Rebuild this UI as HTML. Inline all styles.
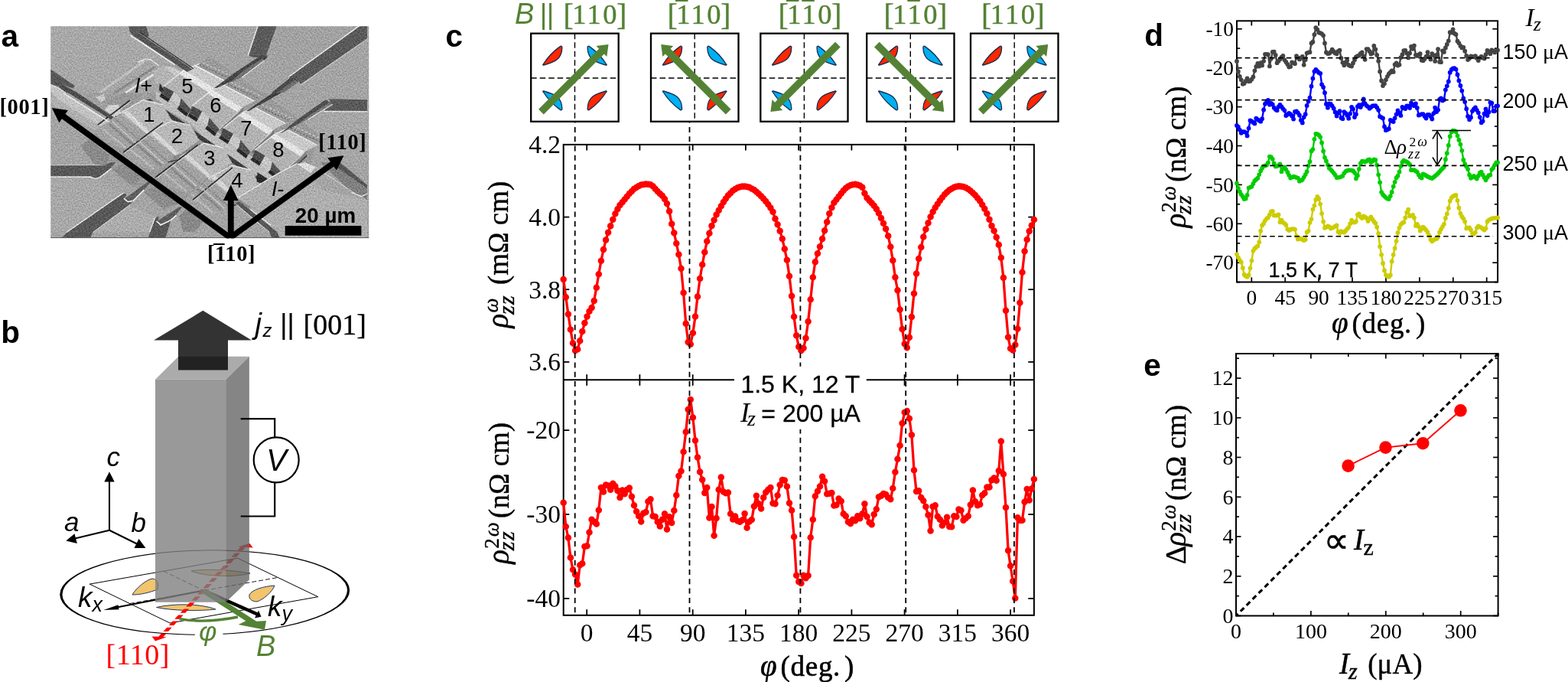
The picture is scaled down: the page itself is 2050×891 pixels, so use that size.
<!DOCTYPE html>
<html lang="en"><head><meta charset="utf-8"><title>Figure</title>
<style>
html,body{margin:0;padding:0;background:#fff;}
body{width:2050px;height:891px;overflow:hidden;}
svg{display:block;}
text{white-space:pre;}
</style></head><body>
<svg width="2050" height="891" viewBox="0 0 2050 891">
<rect width="2050" height="891" fill="#fff"/>
<g id="panel-a">
<defs>
<clipPath id="semclip"><rect x="66.2" y="34.2" width="416.1" height="276.6"/></clipPath>
<filter id="semf" x="0" y="0" width="100%" height="100%" filterUnits="objectBoundingBox" color-interpolation-filters="sRGB">
  <feGaussianBlur in="SourceGraphic" stdDeviation="0.7" result="b"/>
  <feTurbulence type="fractalNoise" baseFrequency="0.55" numOctaves="2" seed="7" result="n"/>
  <feColorMatrix in="n" type="matrix" values="1.6 0 0 0 -0.3  1.6 0 0 0 -0.3  1.6 0 0 0 -0.3  0 0 0 0 1" result="ng"/>
  <feComposite in="b" in2="ng" operator="arithmetic" k1="0" k2="1" k3="0.22" k4="-0.11"/>
</filter>
</defs>
<g clip-path="url(#semclip)">
<g filter="url(#semf)">
<rect x="62.2" y="30.200000000000003" width="424.1" height="284.6" fill="#a4a4a4"/>
<polygon points="66.1,34.1 167.6,34.1 172.7,46.4 229,85.3 190.1,77.1 126.6,119.1 97.9,112 66.1,90.4" fill="#a8a8a8" />
<polygon points="66.1,231.5 121.5,232.5 162.4,253 88.7,303 66.1,303" fill="#a8a8a8" />
<polygon points="121.5,303 169.6,267.8 203.4,283.7 196.2,303" fill="#acacac" />
<polygon points="331.5,273.5 421.6,247.9 480,261.2 480,316.5 362.2,316.5" fill="#aeaeae" />
<polygon points="362.2,34.1 468.7,34.1 377.6,100.7 349.9,74" fill="#a2a2a2" />
<polygon points="392.9,151.7 423.7,145.6 480,146.1 480,212 444.1,212 418.5,192.7" fill="#a6a6a6" />
<polygon points="66.1,109.9 76.4,115 85.6,121 83.6,122 142,158.9 131.7,165 75.4,130.2 66.1,120.1" fill="#c2c2c2" />
<polygon points="75.4,130.2 131.7,165 123.5,170.2 66.1,135.3 66.1,125.1" fill="#b0b0b0" />
<polygon points="126.6,119.1 180.9,81.2 190.1,77.1 197.3,78.1 207.5,85.3 226,85.3 240.3,91.5 252.6,90.4 270,77.1 270,76.1 274.1,73.5 303.8,95.6 313,100.7 341.7,121 347.9,121 355,130.2 389.9,154.8 419.6,178.4 413.4,187.6 403.2,225.3 421.6,247.9 331.5,273.5 308.9,267.3 298.7,263.2 270,278.6 247.5,261.2 213.7,273.5 188,250.9 172.7,242.7 147.1,222.2 139.9,212 105.1,190.7 117.4,181.4 125.6,174.3 148.1,156.9 145,156.3 148.1,152.8" fill="#9a9a9a" />
<polygon points="105.1,190.7 117.4,181.4 144,205 139.9,212 121.5,212" fill="#8a8a8a" />
<polygon points="121.5,212 139.9,212 145,218.1 133.8,223.3" fill="#8c8c8c" />
<polygon points="147.1,222.2 162.4,212 188,232.5 172.7,242.7" fill="#8c8c8c" />
<polygon points="188,250.9 203.4,242.7 234.1,265.3 213.7,273.5" fill="#8c8c8c" />
<polygon points="234.1,281.7 244.4,273.5 264.9,289.9 254.6,303 239.3,303" fill="#888888" />
<polygon points="126.6,119.1 180.9,81.2 190.1,77.1 197.3,78.1 207.5,85.3 226,85.3 240.3,91.5 243.4,95.6 219.8,121 125.6,121" fill="#a6a6a6" />
<polygon points="121.5,121 191.1,121 192.1,134.3 162.4,154.8 154.2,156.9 148.1,152.8 101,121" fill="#a0a0a0" />
<polyline points="131.7,120.1 188,80.2" fill="none" stroke="#c0c0c0" stroke-width="3.2" stroke-linejoin="round" stroke-linecap="round" stroke-linecap="butt"/>
<polyline points="150.1,121 201.4,88.4" fill="none" stroke="#8a8a8a" stroke-width="3.0" stroke-linejoin="round" stroke-linecap="round" stroke-linecap="butt"/>
<polyline points="164.5,121 213.7,88.9" fill="none" stroke="#e8e8e8" stroke-width="2.6" stroke-linejoin="round" stroke-linecap="round" stroke-linecap="butt"/>
<polygon points="198.7,93.3 214,86.1 227.4,88.2 239.7,95.4 235.6,103.6 216.1,120 211,108.7 203.8,110.7" fill="#b4b4b4" />
<polygon points="214,86.1 227.4,88.2 239.7,95.4 235.6,103.6 223.3,94.3" fill="#c8c8c8" />
<polygon points="208.9,108.7 216.1,120 213,122 207.9,117.9" fill="#2c2c2c" />
<polygon points="187.4,131.2 195.6,129.2 200.7,132.2 191.5,134.3" fill="#343434" />
<polygon points="136.8,143.5 142,137.4 155.3,136.4 158.3,151.7 152.2,154.8" fill="#d0d0d0" />
<polygon points="150.1,151.7 158.3,150.7 157.3,155.8 152.2,156.9" fill="#3a3a3a" />
<polygon points="125.6,127.1 135.8,123 137.9,130.2 131.7,133.3" fill="#cacaca" />
<polygon points="131.7,133.3 162.4,121 188,123 162.4,146.6 158.3,136.4 142,136.4" fill="#989898" />
<polygon points="203.8,118.9 213,124 221.2,131.2 255,151.7 272.4,165 278.6,171 293,180 318,199 338,212 357,225 364,232 352,240 330,226 306,209 283,192 262,176 249.9,162 213,140.4 211,133.3 203.8,129.2" fill="#bcbcbc" />
<polygon points="214,141.5 242,161 239,166 212,147" fill="#3c3c3c" />
<polygon points="254,170.5 282,190 279,195 252,176" fill="#3c3c3c" />
<polygon points="296,200.5 324,220 321,225 294,206" fill="#3c3c3c" />
<polygon points="335,229 363,248.5 360,253.5 333,234.5" fill="#3c3c3c" />
<polyline points="213,124 255,151.7 293,180 357,225" fill="none" stroke="#d8d8d8" stroke-width="1.2" stroke-linejoin="round" />
<polygon points="211,122 222.3,129.3 219.8,133.3 208.3,125.8" fill="#282828" />
<polygon points="234.3,138.3 246.3,148.3 243.8,152.3 231.3,142.3" fill="#282828" />
<polygon points="240.7,91.3 261.2,83.1 307.3,100.5 279.6,114.8" fill="#c8c8c8" />
<polygon points="254.8,85.3 266.8,80.3 308.8,99.8 295.3,106.3" fill="#9a9a9a" />
<polygon points="249.9,143.5 279.6,114.8 282.3,119.8 253.8,147.8" fill="#7c7c7c" />
<polygon points="214.1,112.8 240.7,91.3 279.6,114.8 276.6,120 249.9,143.5 236.6,128.2 227.4,120" fill="#b2b2b2" />
<polygon points="240.7,91.3 279.6,114.8 273.3,121 234.4,96.4" fill="#e4e4e4" />
<polygon points="214.1,112.8 227.4,120 222.3,129.3 211,122" fill="#4a4a4a" />
<polygon points="236.6,128.2 249.9,143.5 246.3,148.3 234.3,138.3" fill="#505050" />
<polygon points="227.4,120 236.6,128.2 234.3,138.3 222.3,129.3" fill="#c8c8c8" />
<polyline points="254.8,85.3 295.3,106.3" fill="none" stroke="#f2f2f2" stroke-width="1.3" stroke-linejoin="round" />
<polyline points="214.1,112.8 240.7,91.3 261.2,83.1" fill="none" stroke="#eaeaea" stroke-width="1.3" stroke-linejoin="round" />
<polyline points="260.8,84.3 301.8,103.3" fill="none" stroke="#6e6e6e" stroke-width="1.5" stroke-linejoin="round" stroke-dasharray="2.5 2"/>
<polyline points="264.8,81.8 305.8,100.8" fill="none" stroke="#d0d0d0" stroke-width="1.2" stroke-linejoin="round" stroke-dasharray="3 2.5"/>
<polyline points="249.9,143.5 279.6,114.8" fill="none" stroke="#d6d6d6" stroke-width="1.0" stroke-linejoin="round" />
<polyline points="253.8,147.8 282.3,119.8" fill="none" stroke="#3a3a3a" stroke-width="1.4" stroke-linejoin="round" />
<polygon points="247.9,147.6 259.2,154.9 256.7,158.9 245.2,151.4" fill="#282828" />
<polygon points="271.2,163.9 283.2,173.9 280.7,177.9 268.2,167.9" fill="#282828" />
<polygon points="277.6,116.9 298.1,108.7 344.2,126.1 316.5,140.4" fill="#c8c8c8" />
<polygon points="291.7,110.9 303.7,105.9 345.7,125.4 332.2,131.9" fill="#9a9a9a" />
<polygon points="286.8,169.1 316.5,140.4 319.2,145.4 290.7,173.4" fill="#7c7c7c" />
<polygon points="251,138.4 277.6,116.9 316.5,140.4 313.5,145.6 286.8,169.1 273.5,153.8 264.3,145.6" fill="#b2b2b2" />
<polygon points="277.6,116.9 316.5,140.4 310.2,146.6 271.3,122" fill="#e4e4e4" />
<polygon points="251,138.4 264.3,145.6 259.2,154.9 247.9,147.6" fill="#4a4a4a" />
<polygon points="273.5,153.8 286.8,169.1 283.2,173.9 271.2,163.9" fill="#505050" />
<polygon points="264.3,145.6 273.5,153.8 271.2,163.9 259.2,154.9" fill="#c8c8c8" />
<polyline points="291.7,110.9 332.2,131.9" fill="none" stroke="#f2f2f2" stroke-width="1.3" stroke-linejoin="round" />
<polyline points="251,138.4 277.6,116.9 298.1,108.7" fill="none" stroke="#eaeaea" stroke-width="1.3" stroke-linejoin="round" />
<polyline points="297.7,109.9 338.7,128.9" fill="none" stroke="#6e6e6e" stroke-width="1.5" stroke-linejoin="round" stroke-dasharray="2.5 2"/>
<polyline points="301.7,107.4 342.7,126.4" fill="none" stroke="#d0d0d0" stroke-width="1.2" stroke-linejoin="round" stroke-dasharray="3 2.5"/>
<polyline points="286.8,169.1 316.5,140.4" fill="none" stroke="#d6d6d6" stroke-width="1.0" stroke-linejoin="round" />
<polyline points="290.7,173.4 319.2,145.4" fill="none" stroke="#3a3a3a" stroke-width="1.4" stroke-linejoin="round" />
<polygon points="288.7,176.7 300,184 297.5,188 286,180.5" fill="#282828" />
<polygon points="312,193 324,203 321.5,207 309,197" fill="#282828" />
<polygon points="318.4,146 338.9,137.8 385,155.2 357.3,169.5" fill="#c8c8c8" />
<polygon points="332.5,140 344.5,135 386.5,154.5 373,161" fill="#9a9a9a" />
<polygon points="327.6,198.2 357.3,169.5 360,174.5 331.5,202.5" fill="#7c7c7c" />
<polygon points="291.8,167.5 318.4,146 357.3,169.5 354.3,174.7 327.6,198.2 314.3,182.9 305.1,174.7" fill="#b2b2b2" />
<polygon points="318.4,146 357.3,169.5 351,175.7 312.1,151.1" fill="#e4e4e4" />
<polygon points="291.8,167.5 305.1,174.7 300,184 288.7,176.7" fill="#4a4a4a" />
<polygon points="314.3,182.9 327.6,198.2 324,203 312,193" fill="#505050" />
<polygon points="305.1,174.7 314.3,182.9 312,193 300,184" fill="#c8c8c8" />
<polyline points="332.5,140 373,161" fill="none" stroke="#f2f2f2" stroke-width="1.3" stroke-linejoin="round" />
<polyline points="291.8,167.5 318.4,146 338.9,137.8" fill="none" stroke="#eaeaea" stroke-width="1.3" stroke-linejoin="round" />
<polyline points="338.5,139 379.5,158" fill="none" stroke="#6e6e6e" stroke-width="1.5" stroke-linejoin="round" stroke-dasharray="2.5 2"/>
<polyline points="342.5,136.5 383.5,155.5" fill="none" stroke="#d0d0d0" stroke-width="1.2" stroke-linejoin="round" stroke-dasharray="3 2.5"/>
<polyline points="327.6,198.2 357.3,169.5" fill="none" stroke="#d6d6d6" stroke-width="1.0" stroke-linejoin="round" />
<polyline points="331.5,202.5 360,174.5" fill="none" stroke="#3a3a3a" stroke-width="1.4" stroke-linejoin="round" />
<polygon points="330.2,205.2 341.5,212.5 339,216.5 327.5,209" fill="#282828" />
<polygon points="353.5,221.5 365.5,231.5 363,235.5 350.5,225.5" fill="#282828" />
<polygon points="359.9,174.5 380.4,166.3 426.5,183.7 398.8,198" fill="#c8c8c8" />
<polygon points="374,168.5 386,163.5 428,183 414.5,189.5" fill="#9a9a9a" />
<polygon points="369.1,226.7 398.8,198 401.5,203 373,231" fill="#7c7c7c" />
<polygon points="333.3,196 359.9,174.5 398.8,198 395.8,203.2 369.1,226.7 355.8,211.4 346.6,203.2" fill="#b2b2b2" />
<polygon points="359.9,174.5 398.8,198 392.5,204.2 353.6,179.6" fill="#e4e4e4" />
<polygon points="333.3,196 346.6,203.2 341.5,212.5 330.2,205.2" fill="#4a4a4a" />
<polygon points="355.8,211.4 369.1,226.7 365.5,231.5 353.5,221.5" fill="#505050" />
<polygon points="346.6,203.2 355.8,211.4 353.5,221.5 341.5,212.5" fill="#c8c8c8" />
<polyline points="374,168.5 414.5,189.5" fill="none" stroke="#f2f2f2" stroke-width="1.3" stroke-linejoin="round" />
<polyline points="333.3,196 359.9,174.5 380.4,166.3" fill="none" stroke="#eaeaea" stroke-width="1.3" stroke-linejoin="round" />
<polyline points="380,167.5 421,186.5" fill="none" stroke="#6e6e6e" stroke-width="1.5" stroke-linejoin="round" stroke-dasharray="2.5 2"/>
<polyline points="384,165 425,184" fill="none" stroke="#d0d0d0" stroke-width="1.2" stroke-linejoin="round" stroke-dasharray="3 2.5"/>
<polyline points="369.1,226.7 398.8,198" fill="none" stroke="#d6d6d6" stroke-width="1.0" stroke-linejoin="round" />
<polyline points="373,231 401.5,203" fill="none" stroke="#3a3a3a" stroke-width="1.4" stroke-linejoin="round" />
<polygon points="125.9,174.6 156.6,148 192.5,175.6 183.2,184.6 166.8,196.1 136.1,185.9" fill="#a2a2a2" />
<polyline points="142.5,161.5 174.5,189.5" fill="none" stroke="#8a8a8a" stroke-width="3.5" stroke-linejoin="round" />
<polyline points="134.5,168.5 164.5,193.5" fill="none" stroke="#b8b8b8" stroke-width="2.5" stroke-linejoin="round" />
<polygon points="192.5,175.6 197.6,174.6 224.2,156.2 225.5,161.5 199.5,180.5 183.2,184.6" fill="#8a8a8a" />
<polygon points="156.6,148 187.3,130.5 212.9,136.7 224.2,156.2 197.6,174.6 192.5,175.6" fill="#b8b8b8" />
<polygon points="160.7,146.9 166,143.9 197,173 192.5,175.6" fill="#d6d6d6" />
<polyline points="156.6,148 187.3,130.5 212.9,136.7" fill="none" stroke="#e8e8e8" stroke-width="1.3" stroke-linejoin="round" />
<polyline points="183.2,184.6 199.5,180.5 225.5,161.5" fill="none" stroke="#3a3a3a" stroke-width="1.3" stroke-linejoin="round" />
<polygon points="162.5,201.9 193.2,175.3 229.1,202.9 219.8,211.9 203.4,223.4 172.7,213.2" fill="#a2a2a2" />
<polyline points="179.1,188.8 211.1,216.8" fill="none" stroke="#8a8a8a" stroke-width="3.5" stroke-linejoin="round" />
<polyline points="171.1,195.8 201.1,220.8" fill="none" stroke="#b8b8b8" stroke-width="2.5" stroke-linejoin="round" />
<polygon points="229.1,202.9 234.2,201.9 260.8,183.5 262.1,188.8 236.1,207.8 219.8,211.9" fill="#8a8a8a" />
<polygon points="193.2,175.3 223.9,157.8 249.5,164 260.8,183.5 234.2,201.9 229.1,202.9" fill="#b8b8b8" />
<polygon points="197.3,174.2 202.6,171.2 233.6,200.3 229.1,202.9" fill="#d6d6d6" />
<polyline points="193.2,175.3 223.9,157.8 249.5,164" fill="none" stroke="#e8e8e8" stroke-width="1.3" stroke-linejoin="round" />
<polyline points="219.8,211.9 236.1,207.8 262.1,188.8" fill="none" stroke="#3a3a3a" stroke-width="1.3" stroke-linejoin="round" />
<polygon points="205.2,231.1 235.9,204.5 271.8,232.1 262.5,241.1 246.1,252.6 215.4,242.4" fill="#a2a2a2" />
<polyline points="221.8,218 253.8,246" fill="none" stroke="#8a8a8a" stroke-width="3.5" stroke-linejoin="round" />
<polyline points="213.8,225 243.8,250" fill="none" stroke="#b8b8b8" stroke-width="2.5" stroke-linejoin="round" />
<polygon points="271.8,232.1 276.9,231.1 303.5,212.7 304.8,218 278.8,237 262.5,241.1" fill="#8a8a8a" />
<polygon points="235.9,204.5 266.6,187 292.2,193.2 303.5,212.7 276.9,231.1 271.8,232.1" fill="#b8b8b8" />
<polygon points="240,203.4 245.3,200.4 276.3,229.5 271.8,232.1" fill="#d6d6d6" />
<polyline points="235.9,204.5 266.6,187 292.2,193.2" fill="none" stroke="#e8e8e8" stroke-width="1.3" stroke-linejoin="round" />
<polyline points="262.5,241.1 278.8,237 304.8,218" fill="none" stroke="#3a3a3a" stroke-width="1.3" stroke-linejoin="round" />
<polygon points="241.4,260.1 272.1,233.5 308,261.1 298.7,270.1 282.3,281.6 251.6,271.4" fill="#a2a2a2" />
<polyline points="258,247 290,275" fill="none" stroke="#8a8a8a" stroke-width="3.5" stroke-linejoin="round" />
<polyline points="250,254 280,279" fill="none" stroke="#b8b8b8" stroke-width="2.5" stroke-linejoin="round" />
<polygon points="308,261.1 313.1,260.1 339.7,241.7 341,247 315,266 298.7,270.1" fill="#8a8a8a" />
<polygon points="272.1,233.5 302.8,216 328.4,222.2 339.7,241.7 313.1,260.1 308,261.1" fill="#b8b8b8" />
<polygon points="276.2,232.4 281.5,229.4 312.5,258.5 308,261.1" fill="#d6d6d6" />
<polyline points="272.1,233.5 302.8,216 328.4,222.2" fill="none" stroke="#e8e8e8" stroke-width="1.3" stroke-linejoin="round" />
<polyline points="298.7,270.1 315,266 341,247" fill="none" stroke="#3a3a3a" stroke-width="1.3" stroke-linejoin="round" />
<polyline points="214.2,161.4 162.2,200.5" fill="none" stroke="#cfcfcf" stroke-width="1.2" stroke-linejoin="round" />
<polyline points="213,160.2 161,199.3" fill="none" stroke="#303030" stroke-width="1.7" stroke-linejoin="round" />
<polyline points="259.8,190.7 204.4,233" fill="none" stroke="#cfcfcf" stroke-width="1.2" stroke-linejoin="round" />
<polyline points="258.6,189.5 203.2,231.8" fill="none" stroke="#303030" stroke-width="1.7" stroke-linejoin="round" />
<polyline points="305.3,220 253.2,262.3" fill="none" stroke="#cfcfcf" stroke-width="1.2" stroke-linejoin="round" />
<polyline points="304.1,218.8 252,261.1" fill="none" stroke="#303030" stroke-width="1.7" stroke-linejoin="round" />
<polyline points="171.2,132.2 129.2,164.2" fill="none" stroke="#cfcfcf" stroke-width="1.2" stroke-linejoin="round" />
<polyline points="170,131 128,163" fill="none" stroke="#303030" stroke-width="1.7" stroke-linejoin="round" />
<polyline points="150.5,155.5 182.5,183.5" fill="none" stroke="#909090" stroke-width="2.2" stroke-linejoin="round" />
<polyline points="146.5,158.5 177.5,186.5" fill="none" stroke="#c4c4c4" stroke-width="1.6" stroke-linejoin="round" />
<polyline points="187.1,182.8 219.1,210.8" fill="none" stroke="#909090" stroke-width="2.2" stroke-linejoin="round" />
<polyline points="183.1,185.8 214.1,213.8" fill="none" stroke="#c4c4c4" stroke-width="1.6" stroke-linejoin="round" />
<polyline points="229.8,212 261.8,240" fill="none" stroke="#909090" stroke-width="2.2" stroke-linejoin="round" />
<polyline points="225.8,215 256.8,243" fill="none" stroke="#c4c4c4" stroke-width="1.6" stroke-linejoin="round" />
<polyline points="266,241 298,269" fill="none" stroke="#909090" stroke-width="2.2" stroke-linejoin="round" />
<polyline points="262,244 293,272" fill="none" stroke="#c4c4c4" stroke-width="1.6" stroke-linejoin="round" />
<polygon points="387.8,214 403.2,225.3 421.6,247.9 406.2,242.7 392.9,227.4" fill="#d2d2d2" />
<polygon points="313,257.1 336.6,240.7 362.2,227.4 387.8,214 403.2,225.3 421.6,247.9 331.5,273.5 308.9,267.3" fill="#aeaeae" />
<polygon points="387.8,214 398,212 413.4,218.1 406.2,226.3" fill="#dadada" />
<polygon points="311,260.1 327.4,269.4 325.3,273.5 308.9,267.3" fill="#8c8c8c" />
<polygon points="336.6,225.3 349.9,233.5 343.8,239.7 335.6,237.6" fill="#2a2a2a" />
<polyline points="313,257.1 362.2,227.4 387.8,214" fill="none" stroke="#e4e4e4" stroke-width="1.4" stroke-linejoin="round" stroke-linecap="round" />
<polygon points="168.1,34.1 191.1,34.1 194.7,46.4 192.1,49 177.8,40.8 172.7,44.9 170.1,42.3" fill="#585858" />
<polygon points="177.8,40.8 251.6,90.4 244.4,94 172.7,45.4" fill="#545454" />
<polyline points="182.9,42.3 252.6,89.4" fill="none" stroke="#303030" stroke-width="1.2" stroke-linejoin="round" stroke-linecap="round" stroke-linecap="butt"/>
<polyline points="171.1,46.6 228,84.1" fill="none" stroke="#f4f4f4" stroke-width="1.6" stroke-linejoin="round" stroke-linecap="round" />
<polygon points="66.1,90.4 97.9,112 95.3,115.5 82,110.4 76.4,113.2 66.1,109.4" fill="#585858" />
<polygon points="76.4,113.2 82,110.4 101,121 85.6,121" fill="#4c4c4c" />
<polygon points="88.7,121 101,121 148.1,152.8 145,156.3" fill="#4c4c4c" />
<polyline points="83.6,122 142,158.9" fill="none" stroke="#ececec" stroke-width="1.5" stroke-linejoin="round" stroke-linecap="round" />
<polyline points="66.1,110.9 76.4,115 85.6,121" fill="none" stroke="#e0e0e0" stroke-width="1.2" stroke-linejoin="round" stroke-linecap="round" />
<polygon points="337.6,34.1 361.7,34.1 348.4,71 349.9,74 345.3,78.7 340.7,75.1 331.5,75.1 324.8,72.5" fill="#5a5a5a" />
<polyline points="337.1,34.1 324.3,72.5" fill="none" stroke="#f0f0f0" stroke-width="1.3" stroke-linejoin="round" stroke-linecap="round" />
<polygon points="341.7,72 349.9,74 345.3,78.7 315.1,100.7 283.3,115 280.2,115 304.8,96.6" fill="#464646" />
<polygon points="343.8,76.1 345.3,78.7 315.1,100.7 300.7,107.9 319.2,91.5" fill="#727272" />
<polyline points="345.3,79.2 316.1,101.2" fill="none" stroke="#e4e4e4" stroke-width="1.1" stroke-linejoin="round" stroke-linecap="round" />
<polygon points="469.8,34.1 480,34.1 480,50.5 392.9,109.9 390.9,105.8 385.8,101.7 379.6,102.7 377.6,100.7" fill="#5a5a5a" />
<polyline points="469.2,34.1 377.6,100.2" fill="none" stroke="#f0f0f0" stroke-width="1.3" stroke-linejoin="round" stroke-linecap="round" />
<polyline points="480,51 394,110.4" fill="none" stroke="#dcdcdc" stroke-width="1.0" stroke-linejoin="round" stroke-linecap="round" />
<polygon points="378.6,102.2 385.8,101.7 390.9,106.3 370.4,121 355,121" fill="#4a4a4a" />
<polygon points="384.7,104.8 390.9,106.3 370.4,121 362.2,121" fill="#6e6e6e" />
<polygon points="357.1,121 368.3,121 325.3,145.1 322.2,145.1" fill="#424242" />
<polygon points="429.8,129.2 480,130.2 480,145.1 423.7,144.6 433.9,136.4" fill="#5a5a5a" />
<polyline points="423.7,145.6 480,145.9" fill="none" stroke="#e8e8e8" stroke-width="1.3" stroke-linejoin="round" stroke-linecap="round" />
<polygon points="425.7,130.2 433.9,135.3 403.2,154.8 365.3,175.3 390.9,154.8" fill="#4e4e4e" />
<polygon points="429.8,134.3 433.9,135.3 403.2,154.8 390.9,161 403.2,151.7" fill="#787878" />
<polyline points="434.9,136.4 403.2,155.8" fill="none" stroke="#e4e4e4" stroke-width="1.1" stroke-linejoin="round" stroke-linecap="round" />
<polygon points="66.1,216.1 130.7,216.1 133.8,217.6 145,212 151.2,212 144,220.2 129.7,231.5 123.5,233 118.4,230.4 66.1,230.4" fill="#585858" />
<polyline points="66.1,231.2 118.4,231.2 124.5,233.5 130.7,231.5 145,220.7" fill="none" stroke="#f4f4f4" stroke-width="1.3" stroke-linejoin="round" stroke-linecap="round" />
<polyline points="66.1,215.7 130.7,215.7" fill="none" stroke="#d4d4d4" stroke-width="0.9" stroke-linejoin="round" stroke-linecap="round" />
<polygon points="88.7,303 161.4,252.5 165.5,253.5 162.4,260.1 167.6,263.2 175.8,261.2 169.6,267.3 121.5,303 117.4,312.4 78.4,312.4" fill="#585858" />
<polygon points="163.5,259.1 193.2,237.6 197.3,237.6 188,247.9 173.7,262.2 167.6,263.7" fill="#5e5e5e" />
<polyline points="87.7,303 161.4,252" fill="none" stroke="#ececec" stroke-width="1.2" stroke-linejoin="round" stroke-linecap="round" />
<polyline points="162.4,259.6 167,263.7 174.2,262.2 188,248.4" fill="none" stroke="#f6f6f6" stroke-width="1.5" stroke-linejoin="round" stroke-linecap="round" />
<polyline points="122.5,303 169.6,267.8" fill="none" stroke="#dcdcdc" stroke-width="1.0" stroke-linejoin="round" stroke-linecap="round" />
<polygon points="196.2,303 203.4,283.7 208.5,282.7 205.5,289.9 210.6,293.4 223.9,286.8 218.8,303 215.7,312.4 193.2,312.4" fill="#585858" />
<polygon points="205.5,288.8 234.1,270.4 238.2,270.4 229,281.7 212.6,294" fill="#5e5e5e" />
<polyline points="195.7,303 202.9,283.7" fill="none" stroke="#ececec" stroke-width="1.2" stroke-linejoin="round" stroke-linecap="round" />
<polyline points="205,289.3 210.1,294 223.9,287.3 230,281.7" fill="none" stroke="#f6f6f6" stroke-width="1.5" stroke-linejoin="round" stroke-linecap="round" />
<polygon points="418.5,212 444.1,212 480,241.7 480,261.2 472.8,256 459.5,250.9" fill="#808080" />
<polygon points="433.9,214 444.1,212 480,241.7 480,245.8" fill="#555555" />
<polyline points="459.5,251.4 472.8,256.6 480,253" fill="none" stroke="#e4e4e4" stroke-width="1.3" stroke-linejoin="round" stroke-linecap="round" />
<polyline points="413.4,219.2 464.6,253" fill="none" stroke="#dadada" stroke-width="1.0" stroke-linejoin="round" stroke-linecap="round" />
<polygon points="307.9,265.3 313,263.2 362.2,303 367.3,314.4 357.1,314.4 352,303" fill="#565656" />
<polyline points="308.9,267.3 352,303" fill="none" stroke="#dcdcdc" stroke-width="1.0" stroke-linejoin="round" stroke-linecap="round" />
<polyline points="327.4,273.5 354,294" fill="none" stroke="#e8e8e8" stroke-width="1.2" stroke-linejoin="round" stroke-linecap="round" />
<polyline points="180.9,81.2 190.1,77.1 197.3,78.1 207.5,85.3" fill="none" stroke="#e4e4e4" stroke-width="1.5" stroke-linejoin="round" stroke-linecap="round" />
</g>
</g>
<line x1="66.2" y1="310.6" x2="482.3" y2="310.6" stroke="#555" stroke-width="1" />
<defs><clipPath id="arrclip"><rect x="0" y="0" width="520" height="311.6"/></clipPath></defs>
<g clip-path="url(#arrclip)">
<polygon points="303.2,307.4 85.4,149.1 89,144.1 67.8,141 77.3,160.3 80.9,155.2 298.8,313.6" fill="#000" />
<polygon points="303.2,313.6 436.3,217.4 440,222.4 449.5,203.2 428.2,206.2 431.9,211.2 298.8,307.4" fill="#000" />
<polygon points="305.7,310.5 305.7,262 311.7,262 301.8,241.5 291.9,262 297.9,262 297.9,310.5" fill="#000" />
</g>
<rect x="372.7" y="295" width="99.7" height="12.7" fill="#000"/>
<text x="1.6" y="60.8" font-family="'Liberation Sans', Arial, sans-serif" font-size="40.5" text-anchor="start" fill="#000" font-weight="bold">a</text>
<text x="-0.5" y="148.5" font-family="'Liberation Serif', serif" font-size="28.5" text-anchor="start" fill="#000" font-weight="bold" letter-spacing="0.6">[001]</text>
<text x="416.3" y="194.8" font-family="'Liberation Serif', serif" font-size="28.5" text-anchor="start" fill="#000" font-weight="bold" letter-spacing="0.6">[110]</text>
<text x="271" y="340.8" font-family="'Liberation Serif', serif" font-size="28.5" text-anchor="start" fill="#000" font-weight="bold" letter-spacing="0.6">[110]</text>
<line x1="279" y1="319" x2="293.7" y2="319" stroke="#000" stroke-width="2" />
<text x="425.5" y="291.3" font-family="'Liberation Sans', Arial, sans-serif" font-size="27.8" text-anchor="middle" fill="#000" font-weight="bold">20 µm</text>
<text x="195" y="158.5" font-family="'Liberation Sans', Arial, sans-serif" font-size="27.5" text-anchor="middle" fill="#000" >1</text>
<text x="231.5" y="187" font-family="'Liberation Sans', Arial, sans-serif" font-size="27.5" text-anchor="middle" fill="#000" >2</text>
<text x="274" y="216" font-family="'Liberation Sans', Arial, sans-serif" font-size="27.5" text-anchor="middle" fill="#000" >3</text>
<text x="310" y="244.5" font-family="'Liberation Sans', Arial, sans-serif" font-size="27.5" text-anchor="middle" fill="#000" >4</text>
<text x="245" y="121.5" font-family="'Liberation Sans', Arial, sans-serif" font-size="27.5" text-anchor="middle" fill="#000" >5</text>
<text x="282" y="147" font-family="'Liberation Sans', Arial, sans-serif" font-size="27.5" text-anchor="middle" fill="#000" >6</text>
<text x="322" y="176.5" font-family="'Liberation Sans', Arial, sans-serif" font-size="27.5" text-anchor="middle" fill="#000" >7</text>
<text x="364" y="205" font-family="'Liberation Sans', Arial, sans-serif" font-size="27.5" text-anchor="middle" fill="#000" >8</text>
<text x="176" y="120.5" font-size="27" fill="#000" font-family="'Liberation Sans', Arial, sans-serif"><tspan font-style="italic">I</tspan>+</text>
<text x="355" y="255.5" font-size="27" fill="#000" font-family="'Liberation Sans', Arial, sans-serif"><tspan font-style="italic">I</tspan>-</text>
</g>
<g id="panel-b">
<defs><clipPath id="clipR"><rect x="325.9" y="700" width="20" height="30"/></clipPath><clipPath id="clipL"><rect x="300" y="700" width="25.9" height="30"/></clipPath></defs>
<text x="1.2" y="447.8" font-family="'Liberation Sans', Arial, sans-serif" font-size="40.5" text-anchor="start" fill="#000" font-weight="bold">b</text>
<path transform="rotate(-0.9 267.7 774)" d="M78.2,774 A189.5,55.6 0 1 0 457.2,774 A189.5,55.6 0 1 0 78.2,774 Z M81.4,774 A186.3,54.6 0 1 1 454,774 A186.3,54.6 0 1 1 81.4,774 Z" fill="#000" fill-rule="evenodd"/>
<polygon points="117.2,763.1 310.7,729.2 415.8,779.7 222.2,814.0" fill="none" stroke="#000" stroke-width="1"/>
<line x1="213.9" y1="746.2" x2="319" y2="796.9" stroke="#000" stroke-width="0.9" stroke-dasharray="6 3"/>
<line x1="169.7" y1="788.5" x2="363.2" y2="754.5" stroke="#000" stroke-width="0.9" stroke-dasharray="6 3"/>
<path d="M173,777 C178,768 192,757 199,756 C206,756 208,764 206,770 C196,774 184,777 173,777 Z" fill="#f2c46b" stroke="#1f3864" stroke-width="1"/>
<path d="M250,746 C265,743 300,744 327,749 C310,754 270,754 250,746 Z" fill="#f2c46b" stroke="#1f3864" stroke-width="1"/>
<path d="M204.5,793.5 C225,788.5 262,788 282,796 C262,798.5 225,798 204.5,793.5 Z" fill="#f2c46b" stroke="#1f3864" stroke-width="1"/>
<path d="M326,777 C330,770 345,766 359,765 C356,773 345,783 336,786 C330,786 325,783 326,777 Z" fill="#f2c46b" stroke="#1f3864" stroke-width="1"/>
<line x1="266.5" y1="771.4" x2="150" y2="794" stroke="#000" stroke-width="2.2" />
<polygon points="135.4,797 154.5,790.2 155.5,796.2" fill="#000" />
<line x1="266.5" y1="771.4" x2="336" y2="802.2" stroke="#000" stroke-width="4.4" />
<polygon points="341.5,805.8 333,807.5 338,797.5" fill="#000" />
<line x1="143" y1="692.7" x2="143" y2="628" stroke="#000" stroke-width="2.1" />
<polygon points="143,616.2 136.3,629.5 149.7,629.5" fill="#000" />
<line x1="143" y1="692.7" x2="98" y2="703.6" stroke="#000" stroke-width="2.1" />
<polygon points="86.3,706.5 97.5,697.2 100.8,710" fill="#000" />
<line x1="143" y1="692.7" x2="180" y2="711" stroke="#000" stroke-width="2.1" />
<polygon points="190.5,716 175.5,716 181.5,704" fill="#000" />
<text x="139.5" y="608.7" font-family="'Liberation Sans', Arial, sans-serif" font-size="35" text-anchor="start" fill="#000" font-style="italic">c</text>
<text x="84" y="693.5" font-family="'Liberation Sans', Arial, sans-serif" font-size="35" text-anchor="start" fill="#000" font-style="italic">a</text>
<text x="171.5" y="695.2" font-family="'Liberation Sans', Arial, sans-serif" font-size="35" text-anchor="start" fill="#000" font-style="italic">b</text>
<line x1="972.4" y1="714.4" x2="972.4" y2="832" stroke="#ff0000" stroke-width="6.5" stroke-dasharray="5.3 2.8" transform="skewX(-42.49)"/>
<polygon points="198.6,831.6 217.9,832.2 203,837.6" fill="#ff0000" />
<polygon points="311.2,714.6 326.1,709.7 330.8,715.6" fill="#ff0000" />
<path d="M234.5,808.3 Q267.3,814.9 311,806" fill="none" stroke="#548235" stroke-width="3.4"/>
<polygon points="264.1,774.6 321.4,811.2 311.7,816 346,822.7 348,811 335.3,811.7 267.9,768.6" fill="#548235" />
<polygon points="203,495.7 295.2,495.7 295.2,786.8 203,786.8" fill="#808080" fill-opacity="0.8"/>
<polygon points="295.2,495.7 325.9,465.8 325.9,757.5 295.2,786.8" fill="#676767" fill-opacity="0.8"/>
<polygon points="203,495.7 233.3,465.8 325.9,465.8 295.2,495.7" fill="#969696" fill-opacity="0.8"/>
<polygon points="265.3,405.8 328.9,444.5 298,444.5 298,483.5 233,483.5 233,444.5 201,444.5" fill="#000" fill-opacity="0.8"/>
<path d="M314.7,547.2 H359.2 V571 M359.2,630.7 V674.5 H314.7" fill="none" stroke="#000" stroke-width="2.2"/>
<circle cx="361.2" cy="600.8" r="29.5" fill="#fff" stroke="#000" stroke-width="2.2"/>
<text x="361.5" y="615" font-family="'Liberation Sans', Arial, sans-serif" font-size="40" text-anchor="middle" fill="#000" font-style="italic">V</text>
<text y="435.8" fill="#000"><tspan x="333.5" font-family="'Liberation Sans', Arial, sans-serif" font-style="italic" font-size="38">j</tspan><tspan x="343.5" y="439.6" font-family="'Liberation Sans', Arial, sans-serif" font-style="italic" font-size="24">z</tspan><tspan x="366" y="435.8" font-family="'Liberation Sans', Arial, sans-serif" font-size="37.5" letter-spacing="-0.5">||</tspan><tspan x="396.5" y="436.9" font-family="'Liberation Serif', 'Times New Roman', serif" font-size="38" letter-spacing="0" stroke="#000" stroke-width="0.3">[001]</tspan></text>
<text x="102" y="792.8" font-size="37" fill="#000" font-family="'Liberation Sans', Arial, sans-serif" font-style="italic">k<tspan font-size="27" dy="6">x</tspan></text>
<text x="350" y="805" font-size="37" fill="#000" font-family="'Liberation Sans', Arial, sans-serif" font-style="italic">k<tspan font-size="27" dy="6">y</tspan></text>
<rect x="254.8" y="816" width="36.7" height="34" fill="#fff"/>
<text x="260" y="837.3" font-family="'Liberation Sans', Arial, sans-serif" font-size="36" text-anchor="start" fill="#548235" font-style="italic">φ</text>
<text x="335" y="856.5" font-family="'Liberation Sans', Arial, sans-serif" font-size="38" text-anchor="start" fill="#548235" font-style="italic">B</text>
<text x="138.5" y="867.6" font-family="'Liberation Serif', 'Times New Roman', serif" font-size="38" text-anchor="start" fill="#ff0000" letter-spacing="0.5">[110]</text>
</g>
<g id="panel-c">
<text x="582.5" y="60.8" font-family="'Liberation Sans', Arial, sans-serif" font-size="40.5" text-anchor="start" fill="#000" font-weight="bold">c</text>
<rect x="736.7" y="188.9" width="615.2" height="614.9" fill="none" stroke="#000" stroke-width="2"/>
<line x1="736.7" y1="496.2" x2="1351.9" y2="496.2" stroke="#000" stroke-width="2" />
<line x1="767.2" y1="188.9" x2="767.2" y2="196.5" stroke="#000" stroke-width="1.8" />
<line x1="767.2" y1="489.2" x2="767.2" y2="503.8" stroke="#000" stroke-width="1.8" />
<line x1="767.2" y1="803.8" x2="767.2" y2="796.2" stroke="#000" stroke-width="1.8" />
<line x1="836.4" y1="188.9" x2="836.4" y2="196.5" stroke="#000" stroke-width="1.8" />
<line x1="836.4" y1="489.2" x2="836.4" y2="503.8" stroke="#000" stroke-width="1.8" />
<line x1="836.4" y1="803.8" x2="836.4" y2="796.2" stroke="#000" stroke-width="1.8" />
<line x1="905.7" y1="188.9" x2="905.7" y2="196.5" stroke="#000" stroke-width="1.8" />
<line x1="905.7" y1="489.2" x2="905.7" y2="503.8" stroke="#000" stroke-width="1.8" />
<line x1="905.7" y1="803.8" x2="905.7" y2="796.2" stroke="#000" stroke-width="1.8" />
<line x1="974.9" y1="188.9" x2="974.9" y2="196.5" stroke="#000" stroke-width="1.8" />
<line x1="974.9" y1="489.2" x2="974.9" y2="503.8" stroke="#000" stroke-width="1.8" />
<line x1="974.9" y1="803.8" x2="974.9" y2="796.2" stroke="#000" stroke-width="1.8" />
<line x1="1044.1" y1="188.9" x2="1044.1" y2="196.5" stroke="#000" stroke-width="1.8" />
<line x1="1044.1" y1="489.2" x2="1044.1" y2="503.8" stroke="#000" stroke-width="1.8" />
<line x1="1044.1" y1="803.8" x2="1044.1" y2="796.2" stroke="#000" stroke-width="1.8" />
<line x1="1113.4" y1="188.9" x2="1113.4" y2="196.5" stroke="#000" stroke-width="1.8" />
<line x1="1113.4" y1="489.2" x2="1113.4" y2="503.8" stroke="#000" stroke-width="1.8" />
<line x1="1113.4" y1="803.8" x2="1113.4" y2="796.2" stroke="#000" stroke-width="1.8" />
<line x1="1182.6" y1="188.9" x2="1182.6" y2="196.5" stroke="#000" stroke-width="1.8" />
<line x1="1182.6" y1="489.2" x2="1182.6" y2="503.8" stroke="#000" stroke-width="1.8" />
<line x1="1182.6" y1="803.8" x2="1182.6" y2="796.2" stroke="#000" stroke-width="1.8" />
<line x1="1251.9" y1="188.9" x2="1251.9" y2="196.5" stroke="#000" stroke-width="1.8" />
<line x1="1251.9" y1="489.2" x2="1251.9" y2="503.8" stroke="#000" stroke-width="1.8" />
<line x1="1251.9" y1="803.8" x2="1251.9" y2="796.2" stroke="#000" stroke-width="1.8" />
<line x1="1321.1" y1="188.9" x2="1321.1" y2="196.5" stroke="#000" stroke-width="1.8" />
<line x1="1321.1" y1="489.2" x2="1321.1" y2="503.8" stroke="#000" stroke-width="1.8" />
<line x1="1321.1" y1="803.8" x2="1321.1" y2="796.2" stroke="#000" stroke-width="1.8" />
<line x1="736.7" y1="188.9" x2="744.3" y2="188.9" stroke="#000" stroke-width="1.8" />
<line x1="1351.9" y1="188.9" x2="1344.3" y2="188.9" stroke="#000" stroke-width="1.8" />
<line x1="736.7" y1="283.6" x2="744.3" y2="283.6" stroke="#000" stroke-width="1.8" />
<line x1="1351.9" y1="283.6" x2="1344.3" y2="283.6" stroke="#000" stroke-width="1.8" />
<line x1="736.7" y1="378.2" x2="744.3" y2="378.2" stroke="#000" stroke-width="1.8" />
<line x1="1351.9" y1="378.2" x2="1344.3" y2="378.2" stroke="#000" stroke-width="1.8" />
<line x1="736.7" y1="472.9" x2="744.3" y2="472.9" stroke="#000" stroke-width="1.8" />
<line x1="1351.9" y1="472.9" x2="1344.3" y2="472.9" stroke="#000" stroke-width="1.8" />
<line x1="736.7" y1="562.1" x2="744.3" y2="562.1" stroke="#000" stroke-width="1.8" />
<line x1="1351.9" y1="562.1" x2="1344.3" y2="562.1" stroke="#000" stroke-width="1.8" />
<line x1="736.7" y1="672" x2="744.3" y2="672" stroke="#000" stroke-width="1.8" />
<line x1="1351.9" y1="672" x2="1344.3" y2="672" stroke="#000" stroke-width="1.8" />
<line x1="736.7" y1="781.9" x2="744.3" y2="781.9" stroke="#000" stroke-width="1.8" />
<line x1="1351.9" y1="781.9" x2="1344.3" y2="781.9" stroke="#000" stroke-width="1.8" />
<text x="733" y="200.2" font-family="'Liberation Serif', 'Times New Roman', serif" font-size="33.5" text-anchor="end" fill="#000" >4.2</text>
<text x="733" y="294.9" font-family="'Liberation Serif', 'Times New Roman', serif" font-size="33.5" text-anchor="end" fill="#000" >4.0</text>
<text x="733" y="389.5" font-family="'Liberation Serif', 'Times New Roman', serif" font-size="33.5" text-anchor="end" fill="#000" >3.8</text>
<text x="733" y="484.2" font-family="'Liberation Serif', 'Times New Roman', serif" font-size="33.5" text-anchor="end" fill="#000" >3.6</text>
<text x="733" y="573.1" font-family="'Liberation Serif', 'Times New Roman', serif" font-size="33.5" text-anchor="end" fill="#000" >-20</text>
<text x="733" y="683" font-family="'Liberation Serif', 'Times New Roman', serif" font-size="33.5" text-anchor="end" fill="#000" >-30</text>
<text x="733" y="792.9" font-family="'Liberation Serif', 'Times New Roman', serif" font-size="33.5" text-anchor="end" fill="#000" >-40</text>
<text x="767.2" y="838.3" font-family="'Liberation Serif', 'Times New Roman', serif" font-size="33.5" text-anchor="middle" fill="#000" >0</text>
<text x="836.4" y="838.3" font-family="'Liberation Serif', 'Times New Roman', serif" font-size="33.5" text-anchor="middle" fill="#000" >45</text>
<text x="905.7" y="838.3" font-family="'Liberation Serif', 'Times New Roman', serif" font-size="33.5" text-anchor="middle" fill="#000" >90</text>
<text x="974.9" y="838.3" font-family="'Liberation Serif', 'Times New Roman', serif" font-size="33.5" text-anchor="middle" fill="#000" >135</text>
<text x="1044.1" y="838.3" font-family="'Liberation Serif', 'Times New Roman', serif" font-size="33.5" text-anchor="middle" fill="#000" >180</text>
<text x="1113.4" y="838.3" font-family="'Liberation Serif', 'Times New Roman', serif" font-size="33.5" text-anchor="middle" fill="#000" >225</text>
<text x="1182.6" y="838.3" font-family="'Liberation Serif', 'Times New Roman', serif" font-size="33.5" text-anchor="middle" fill="#000" >270</text>
<text x="1251.9" y="838.3" font-family="'Liberation Serif', 'Times New Roman', serif" font-size="33.5" text-anchor="middle" fill="#000" >315</text>
<text x="1321.1" y="838.3" font-family="'Liberation Serif', 'Times New Roman', serif" font-size="33.5" text-anchor="middle" fill="#000" >360</text>
<polyline points="736.7,364.9 739.8,388.2 742.9,410.4 745.9,430.6 749,448.2 752.1,458.1 755.2,456.2 758.2,445.2 761.3,433 764.4,422.1 767.5,413.6 770.5,406.7 773.6,401.9 776.7,392.9 779.8,375.7 782.8,358.3 785.9,340.8 789,326.1 792.1,313.4 795.1,303.8 798.2,295.3 801.3,286.8 804.4,279.2 807.4,273.2 810.5,268.1 813.6,264.2 816.7,260.4 819.8,256.7 822.8,253 825.9,249.9 829,246.8 832.1,244.8 835.1,243.1 838.2,241.5 841.3,240.9 844.4,240.4 847.4,240.7 850.5,241.2 853.6,243.3 856.7,246.7 859.7,250 862.8,252.9 865.9,255.7 869,260 872,266 875.1,276.1 878.2,292.6 881.3,304.3 884.3,318 887.4,332.5 890.5,350.7 893.6,382.6 896.7,422.7 899.7,446.9 902.8,449.7 905.9,435.1 909,413.4 912,387.5 915.1,364.1 918.2,345.7 921.3,329.4 924.3,315.3 927.4,304.7 930.5,295.1 933.6,287.5 936.6,280.6 939.7,274.7 942.8,269.3 945.9,263.9 948.9,259.6 952,255.3 955.1,252.2 958.2,249.1 961.2,247 964.3,245.3 967.4,244.2 970.5,243.6 973.6,243.4 976.6,244 979.7,244.8 982.8,246.4 985.9,248 988.9,250.6 992,253.2 995.1,256.3 998.2,259.5 1001.2,263.1 1004.3,267 1007.4,271.4 1010.5,276.8 1013.5,285.7 1016.6,293.3 1019.7,301.8 1022.8,312.1 1025.8,325.2 1028.9,339.8 1032,360.7 1035.1,386.8 1038.1,413.7 1041.2,438.2 1044.3,453 1047.4,457.9 1050.5,454.8 1053.5,441.8 1056.6,420 1059.7,391.2 1062.8,362.2 1065.8,342.3 1068.9,331.3 1072,322.3 1075.1,312.1 1078.1,301.3 1081.2,289.9 1084.3,279.1 1087.4,271.3 1090.4,264.8 1093.5,260.7 1096.6,256.7 1099.7,252.7 1102.7,248.9 1105.8,245.8 1108.9,243.5 1112,242 1115,241.2 1118.1,240.8 1121.2,241.4 1124.3,242.4 1127.4,244.7 1130.4,252.5 1133.5,258.4 1136.6,261.9 1139.7,265.3 1142.7,268.8 1145.8,273.1 1148.9,278.6 1152,285 1155,291.7 1158.1,299.1 1161.2,308.3 1164.3,322.4 1167.3,340.3 1170.4,362.2 1173.5,379.2 1176.6,404.6 1179.6,430.1 1182.7,449.3 1185.8,454.3 1188.9,440.7 1191.9,414 1195,383.4 1198.1,357.4 1201.2,337.9 1204.3,323 1207.3,309.4 1210.4,299.4 1213.5,291.2 1216.6,283.3 1219.6,276.7 1222.7,271.2 1225.8,266.5 1228.9,261.9 1231.9,258 1235,254.1 1238.1,251.1 1241.2,248.3 1244.2,246.4 1247.3,244.8 1250.4,243.8 1253.5,243.3 1256.5,243.6 1259.6,244.1 1262.7,245.3 1265.8,247 1268.8,249.2 1271.9,252 1275,255 1278.1,258.7 1281.2,262.4 1284.2,267.4 1287.3,272.7 1290.4,279 1293.5,286.8 1296.5,294.9 1299.6,301.5 1302.7,309.9 1305.8,319.7 1308.8,336.8 1311.9,362.7 1315,405.8 1318.1,440.6 1321.1,455.3 1324.2,457.5 1327.3,450.6 1330.4,429.6 1333.4,395.5 1336.5,355.7 1339.6,328.3 1342.7,313.1 1345.7,302.1 1348.8,294.4 1351.9,286.9" fill="none" stroke="#ff0000" stroke-width="3.3" stroke-linejoin="round" />
<path d="M736.7,364.9h0M739.8,388.2h0M742.9,410.4h0M745.9,430.6h0M749,448.2h0M752.1,458.1h0M755.2,456.2h0M758.2,445.2h0M761.3,433h0M764.4,422.1h0M767.5,413.6h0M770.5,406.7h0M773.6,401.9h0M776.7,392.9h0M779.8,375.7h0M782.8,358.3h0M785.9,340.8h0M789,326.1h0M792.1,313.4h0M795.1,303.8h0M798.2,295.3h0M801.3,286.8h0M804.4,279.2h0M807.4,273.2h0M810.5,268.1h0M813.6,264.2h0M816.7,260.4h0M819.8,256.7h0M822.8,253h0M825.9,249.9h0M829,246.8h0M832.1,244.8h0M835.1,243.1h0M838.2,241.5h0M841.3,240.9h0M844.4,240.4h0M847.4,240.7h0M850.5,241.2h0M853.6,243.3h0M856.7,246.7h0M859.7,250h0M862.8,252.9h0M865.9,255.7h0M869,260h0M872,266h0M875.1,276.1h0M878.2,292.6h0M881.3,304.3h0M884.3,318h0M887.4,332.5h0M890.5,350.7h0M893.6,382.6h0M896.7,422.7h0M899.7,446.9h0M902.8,449.7h0M905.9,435.1h0M909,413.4h0M912,387.5h0M915.1,364.1h0M918.2,345.7h0M921.3,329.4h0M924.3,315.3h0M927.4,304.7h0M930.5,295.1h0M933.6,287.5h0M936.6,280.6h0M939.7,274.7h0M942.8,269.3h0M945.9,263.9h0M948.9,259.6h0M952,255.3h0M955.1,252.2h0M958.2,249.1h0M961.2,247h0M964.3,245.3h0M967.4,244.2h0M970.5,243.6h0M973.6,243.4h0M976.6,244h0M979.7,244.8h0M982.8,246.4h0M985.9,248h0M988.9,250.6h0M992,253.2h0M995.1,256.3h0M998.2,259.5h0M1001.2,263.1h0M1004.3,267h0M1007.4,271.4h0M1010.5,276.8h0M1013.5,285.7h0M1016.6,293.3h0M1019.7,301.8h0M1022.8,312.1h0M1025.8,325.2h0M1028.9,339.8h0M1032,360.7h0M1035.1,386.8h0M1038.1,413.7h0M1041.2,438.2h0M1044.3,453h0M1047.4,457.9h0M1050.5,454.8h0M1053.5,441.8h0M1056.6,420h0M1059.7,391.2h0M1062.8,362.2h0M1065.8,342.3h0M1068.9,331.3h0M1072,322.3h0M1075.1,312.1h0M1078.1,301.3h0M1081.2,289.9h0M1084.3,279.1h0M1087.4,271.3h0M1090.4,264.8h0M1093.5,260.7h0M1096.6,256.7h0M1099.7,252.7h0M1102.7,248.9h0M1105.8,245.8h0M1108.9,243.5h0M1112,242h0M1115,241.2h0M1118.1,240.8h0M1121.2,241.4h0M1124.3,242.4h0M1127.4,244.7h0M1130.4,252.5h0M1133.5,258.4h0M1136.6,261.9h0M1139.7,265.3h0M1142.7,268.8h0M1145.8,273.1h0M1148.9,278.6h0M1152,285h0M1155,291.7h0M1158.1,299.1h0M1161.2,308.3h0M1164.3,322.4h0M1167.3,340.3h0M1170.4,362.2h0M1173.5,379.2h0M1176.6,404.6h0M1179.6,430.1h0M1182.7,449.3h0M1185.8,454.3h0M1188.9,440.7h0M1191.9,414h0M1195,383.4h0M1198.1,357.4h0M1201.2,337.9h0M1204.3,323h0M1207.3,309.4h0M1210.4,299.4h0M1213.5,291.2h0M1216.6,283.3h0M1219.6,276.7h0M1222.7,271.2h0M1225.8,266.5h0M1228.9,261.9h0M1231.9,258h0M1235,254.1h0M1238.1,251.1h0M1241.2,248.3h0M1244.2,246.4h0M1247.3,244.8h0M1250.4,243.8h0M1253.5,243.3h0M1256.5,243.6h0M1259.6,244.1h0M1262.7,245.3h0M1265.8,247h0M1268.8,249.2h0M1271.9,252h0M1275,255h0M1278.1,258.7h0M1281.2,262.4h0M1284.2,267.4h0M1287.3,272.7h0M1290.4,279h0M1293.5,286.8h0M1296.5,294.9h0M1299.6,301.5h0M1302.7,309.9h0M1305.8,319.7h0M1308.8,336.8h0M1311.9,362.7h0M1315,405.8h0M1318.1,440.6h0M1321.1,455.3h0M1324.2,457.5h0M1327.3,450.6h0M1330.4,429.6h0M1333.4,395.5h0M1336.5,355.7h0M1339.6,328.3h0M1342.7,313.1h0M1345.7,302.1h0M1348.8,294.4h0M1351.9,286.9h0" fill="none" stroke="#ff0000" stroke-width="8.5" stroke-linecap="round"/>
<polyline points="736.7,656.8 739.8,687.9 742.9,702.5 745.9,728.6 749,744.2 752.1,750.6 755.2,763.5 758.2,738.2 761.3,736.2 764.4,713.9 767.5,713.2 770.5,695.4 773.6,678.8 776.7,681.8 779.8,684.5 782.8,666.4 785.9,637.1 789,642.4 792.1,633.6 795.1,634.5 798.2,639.7 801.3,631.8 804.4,635.2 807.4,640.9 810.5,650 813.6,640.6 816.7,645.2 819.8,639.7 822.8,637.4 825.9,648.8 829,660.2 832.1,668.2 835.1,674.2 838.2,681.5 841.3,670.5 844.4,668.9 847.4,655.3 850.5,652.3 853.6,674.2 856.7,675 859.7,681.8 862.8,687.6 865.9,678.8 869,671.2 872,691.4 875.1,675.3 878.2,682.9 881.3,667.1 884.3,647 887.4,621.7 890.5,615.6 893.6,590.3 896.7,564.2 899.7,535 902.8,522.1 905.9,545.6 909,575.5 912,597.6 915.1,616.4 918.2,626.8 921.3,643.9 924.3,637.1 927.4,676.5 930.5,662.1 933.6,699.7 936.6,677 939.7,639.7 942.8,623.5 945.9,642.4 948.9,644.2 952,643.5 955.1,671.2 958.2,678.5 961.2,674.5 964.3,680.6 967.4,681.8 970.5,679.5 973.6,670.9 976.6,689.4 979.7,681.5 982.8,679.1 985.9,661.4 988.9,647.7 992,658.3 995.1,664.4 998.2,650 1001.2,643.2 1004.3,639.7 1007.4,637.1 1010.5,657.6 1013.5,658.3 1016.6,647.3 1019.7,633.6 1022.8,627 1025.8,627.6 1028.9,635.6 1032,657.3 1035.1,666.7 1038.1,701.2 1041.2,751.8 1044.3,760 1047.4,762 1050.5,751.8 1053.5,755.2 1056.6,752.1 1059.7,702.2 1062.8,678.8 1065.8,648.2 1068.9,641.7 1072,635.6 1075.1,622.7 1078.1,628.8 1081.2,645.2 1084.3,644.7 1087.4,643.9 1090.4,660.6 1093.5,659.8 1096.6,651.5 1099.7,654.8 1102.7,671.2 1105.8,674.2 1108.9,681.8 1112,684.1 1115,678.8 1118.1,680.3 1121.2,674.2 1124.3,677.3 1127.4,671.2 1130.4,658.3 1133.5,675 1136.6,682.6 1139.7,685.3 1142.7,672 1145.8,665.2 1148.9,649.2 1152,647.7 1155,645 1158.1,645.9 1161.2,650 1164.3,652.3 1167.3,638 1170.4,616.8 1173.5,599.7 1176.6,582 1179.6,552.9 1182.7,538.8 1185.8,537 1188.9,546.7 1191.9,568.3 1195,614.2 1198.1,642 1201.2,641.2 1204.3,650 1207.3,654.2 1210.4,662.1 1213.5,672.7 1216.6,693.6 1219.6,661.8 1222.7,660.2 1225.8,674.7 1228.9,678.8 1231.9,686.4 1235,682.6 1238.1,675.8 1241.2,687.9 1244.2,688.3 1247.3,674.2 1250.4,675 1253.5,665.5 1256.5,666.7 1259.6,679.8 1262.7,677 1265.8,674.2 1268.8,659.5 1271.9,640.6 1275,655.3 1278.1,660.3 1281.2,659.1 1284.2,647 1287.3,644.2 1290.4,636.4 1293.5,636.4 1296.5,627.3 1299.6,624.5 1302.7,627.7 1305.8,615 1308.8,576.4 1311.9,619.5 1315,662.9 1318.1,719.3 1321.1,739.2 1324.2,759.2 1327.3,781.4 1330.4,676.3 1333.4,679.8 1336.5,679.8 1339.6,655.8 1342.7,638.9 1345.7,653.5 1348.8,638.4 1351.9,626.1" fill="none" stroke="#ff0000" stroke-width="3.3" stroke-linejoin="round" />
<path d="M736.7,656.8h0M739.8,687.9h0M742.9,702.5h0M745.9,728.6h0M749,744.2h0M752.1,750.6h0M755.2,763.5h0M758.2,738.2h0M761.3,736.2h0M764.4,713.9h0M767.5,713.2h0M770.5,695.4h0M773.6,678.8h0M776.7,681.8h0M779.8,684.5h0M782.8,666.4h0M785.9,637.1h0M789,642.4h0M792.1,633.6h0M795.1,634.5h0M798.2,639.7h0M801.3,631.8h0M804.4,635.2h0M807.4,640.9h0M810.5,650h0M813.6,640.6h0M816.7,645.2h0M819.8,639.7h0M822.8,637.4h0M825.9,648.8h0M829,660.2h0M832.1,668.2h0M835.1,674.2h0M838.2,681.5h0M841.3,670.5h0M844.4,668.9h0M847.4,655.3h0M850.5,652.3h0M853.6,674.2h0M856.7,675h0M859.7,681.8h0M862.8,687.6h0M865.9,678.8h0M869,671.2h0M872,691.4h0M875.1,675.3h0M878.2,682.9h0M881.3,667.1h0M884.3,647h0M887.4,621.7h0M890.5,615.6h0M893.6,590.3h0M896.7,564.2h0M899.7,535h0M902.8,522.1h0M905.9,545.6h0M909,575.5h0M912,597.6h0M915.1,616.4h0M918.2,626.8h0M921.3,643.9h0M924.3,637.1h0M927.4,676.5h0M930.5,662.1h0M933.6,699.7h0M936.6,677h0M939.7,639.7h0M942.8,623.5h0M945.9,642.4h0M948.9,644.2h0M952,643.5h0M955.1,671.2h0M958.2,678.5h0M961.2,674.5h0M964.3,680.6h0M967.4,681.8h0M970.5,679.5h0M973.6,670.9h0M976.6,689.4h0M979.7,681.5h0M982.8,679.1h0M985.9,661.4h0M988.9,647.7h0M992,658.3h0M995.1,664.4h0M998.2,650h0M1001.2,643.2h0M1004.3,639.7h0M1007.4,637.1h0M1010.5,657.6h0M1013.5,658.3h0M1016.6,647.3h0M1019.7,633.6h0M1022.8,627h0M1025.8,627.6h0M1028.9,635.6h0M1032,657.3h0M1035.1,666.7h0M1038.1,701.2h0M1041.2,751.8h0M1044.3,760h0M1047.4,762h0M1050.5,751.8h0M1053.5,755.2h0M1056.6,752.1h0M1059.7,702.2h0M1062.8,678.8h0M1065.8,648.2h0M1068.9,641.7h0M1072,635.6h0M1075.1,622.7h0M1078.1,628.8h0M1081.2,645.2h0M1084.3,644.7h0M1087.4,643.9h0M1090.4,660.6h0M1093.5,659.8h0M1096.6,651.5h0M1099.7,654.8h0M1102.7,671.2h0M1105.8,674.2h0M1108.9,681.8h0M1112,684.1h0M1115,678.8h0M1118.1,680.3h0M1121.2,674.2h0M1124.3,677.3h0M1127.4,671.2h0M1130.4,658.3h0M1133.5,675h0M1136.6,682.6h0M1139.7,685.3h0M1142.7,672h0M1145.8,665.2h0M1148.9,649.2h0M1152,647.7h0M1155,645h0M1158.1,645.9h0M1161.2,650h0M1164.3,652.3h0M1167.3,638h0M1170.4,616.8h0M1173.5,599.7h0M1176.6,582h0M1179.6,552.9h0M1182.7,538.8h0M1185.8,537h0M1188.9,546.7h0M1191.9,568.3h0M1195,614.2h0M1198.1,642h0M1201.2,641.2h0M1204.3,650h0M1207.3,654.2h0M1210.4,662.1h0M1213.5,672.7h0M1216.6,693.6h0M1219.6,661.8h0M1222.7,660.2h0M1225.8,674.7h0M1228.9,678.8h0M1231.9,686.4h0M1235,682.6h0M1238.1,675.8h0M1241.2,687.9h0M1244.2,688.3h0M1247.3,674.2h0M1250.4,675h0M1253.5,665.5h0M1256.5,666.7h0M1259.6,679.8h0M1262.7,677h0M1265.8,674.2h0M1268.8,659.5h0M1271.9,640.6h0M1275,655.3h0M1278.1,660.3h0M1281.2,659.1h0M1284.2,647h0M1287.3,644.2h0M1290.4,636.4h0M1293.5,636.4h0M1296.5,627.3h0M1299.6,624.5h0M1302.7,627.7h0M1305.8,615h0M1308.8,576.4h0M1311.9,619.5h0M1315,662.9h0M1318.1,719.3h0M1321.1,739.2h0M1324.2,759.2h0M1327.3,781.4h0M1330.4,676.3h0M1333.4,679.8h0M1336.5,679.8h0M1339.6,655.8h0M1342.7,638.9h0M1345.7,653.5h0M1348.8,638.4h0M1351.9,626.1h0" fill="none" stroke="#ff0000" stroke-width="8.5" stroke-linecap="round"/>
<line x1="751.7" y1="153.6" x2="751.7" y2="803.8" stroke="#000" stroke-width="1.8" stroke-dasharray="7 5.3"/>
<line x1="901.5" y1="153.6" x2="901.5" y2="803.8" stroke="#000" stroke-width="1.8" stroke-dasharray="7 5.3"/>
<line x1="1046.4" y1="153.6" x2="1046.4" y2="803.8" stroke="#000" stroke-width="1.8" stroke-dasharray="7 5.3"/>
<line x1="1184.2" y1="153.6" x2="1184.2" y2="803.8" stroke="#000" stroke-width="1.8" stroke-dasharray="7 5.3"/>
<line x1="1325.9" y1="153.6" x2="1325.9" y2="803.8" stroke="#000" stroke-width="1.8" stroke-dasharray="7 5.3"/>
<rect x="960" y="478.8" width="172.8" height="82" fill="#fff"/>
<text x="1046.4" y="512.9" font-family="'Liberation Sans', Arial, sans-serif" font-size="32" text-anchor="middle" fill="#000" stroke="#000" stroke-width="0.3">1.5 K, 12 T</text>
<text x="968" y="550.6" font-size="32" fill="#000"><tspan font-family="'Liberation Serif', 'Times New Roman', serif" font-style="italic" font-size="36">I</tspan><tspan font-family="'Liberation Serif', 'Times New Roman', serif" font-style="italic" font-size="28" dy="5.5" dx="-3">z</tspan><tspan font-family="'Liberation Sans', Arial, sans-serif" dy="-5.5" dx="-1.5" stroke="#000" stroke-width="0.3"> = 200 µA</tspan></text>
<text x="994" y="882.5" font-size="37" fill="#000" stroke="#000" stroke-width="0.6"><tspan font-family="'Liberation Serif', 'Times New Roman', serif" font-style="italic" font-size="39">φ</tspan><tspan font-family="'Liberation Serif', 'Times New Roman', serif" dx="5" letter-spacing="0.7">(deg.</tspan><tspan font-family="'Liberation Serif', 'Times New Roman', serif" dx="5">)</tspan></text>
<g transform="translate(664.3,431.1) rotate(-90)"><text font-size="37" fill="#000" stroke="#000" stroke-width="0.4" font-family="'Liberation Serif', 'Times New Roman', serif"><tspan x="2.5" y="0" font-style="italic" font-size="39">ρ</tspan><tspan x="20" y="7.5" font-style="italic" font-size="30" letter-spacing="1.5">zz</tspan><tspan x="22.5" y="-13" font-style="italic" font-size="27">ω</tspan><tspan x="59" y="0">(mΩ cm)</tspan></text></g>
<g transform="translate(664.8,739.2) rotate(-90)"><text font-size="37" fill="#000" stroke="#000" stroke-width="0.4" font-family="'Liberation Serif', 'Times New Roman', serif"><tspan x="2.5" y="0" font-style="italic" font-size="39">ρ</tspan><tspan x="20" y="7.5" font-style="italic" font-size="30" letter-spacing="1.5">zz</tspan><tspan x="22.5" y="-13" font-size="27">2</tspan><tspan dx="2" font-style="italic" font-size="27">ω</tspan><tspan x="62.3" y="0">(nΩ cm)</tspan></text></g>
<rect x="694.2" y="43.7" width="114.5" height="115.1" fill="#fff" stroke="#000" stroke-width="2.3"/>
<line x1="751.5" y1="43.7" x2="751.5" y2="158.8" stroke="#000" stroke-width="1.4" stroke-dasharray="7.5 4"/>
<line x1="694.2" y1="102" x2="808.7" y2="102" stroke="#000" stroke-width="1.4" stroke-dasharray="7.5 4"/>
<path transform="translate(751.5,102.0) scale(1,1)" d="M-41.3,-18 Q-32.5,-32 -19,-41.4 C-17.5,-42.4 -16.4,-41.5 -16.6,-39.5 C-16.8,-33 -19,-27.5 -23.5,-24 C-28,-20.8 -34,-18.8 -40.5,-17 C-41.8,-16.7 -42.2,-17.2 -41.3,-18 Z" fill="#ff2600" stroke="#172c51" stroke-width="1.3" stroke-linejoin="round"/>
<path transform="translate(751.5,102.0) scale(-1,-1)" d="M-41.3,-18 Q-32.5,-32 -19,-41.4 C-17.5,-42.4 -16.4,-41.5 -16.6,-39.5 C-16.8,-33 -19,-27.5 -23.5,-24 C-28,-20.8 -34,-18.8 -40.5,-17 C-41.8,-16.7 -42.2,-17.2 -41.3,-18 Z" fill="#ff2600" stroke="#172c51" stroke-width="1.3" stroke-linejoin="round"/>
<path transform="translate(751.5,102.0) scale(-1,1)" d="M-41.3,-18 Q-32.5,-32 -19,-41.4 C-17.5,-42.4 -16.4,-41.5 -16.6,-39.5 C-16.8,-33 -19,-27.5 -23.5,-24 C-28,-20.8 -34,-18.8 -40.5,-17 C-41.8,-16.7 -42.2,-17.2 -41.3,-18 Z" fill="#00b0f0" stroke="#172c51" stroke-width="1.3" stroke-linejoin="round"/>
<path transform="translate(751.5,102.0) scale(1,-1)" d="M-41.3,-18 Q-32.5,-32 -19,-41.4 C-17.5,-42.4 -16.4,-41.5 -16.6,-39.5 C-16.8,-33 -19,-27.5 -23.5,-24 C-28,-20.8 -34,-18.8 -40.5,-17 C-41.8,-16.7 -42.2,-17.2 -41.3,-18 Z" fill="#00b0f0" stroke="#172c51" stroke-width="1.3" stroke-linejoin="round"/>
<polygon points="710.8,149.4 789.8,70.4 793.4,74 795.5,58 779.5,60.1 783.1,63.7 704.1,142.7" fill="#548235" />
<rect x="851.0" y="43.7" width="114.5" height="115.1" fill="#fff" stroke="#000" stroke-width="2.3"/>
<line x1="908.2" y1="43.7" x2="908.2" y2="158.8" stroke="#000" stroke-width="1.4" stroke-dasharray="7.5 4"/>
<line x1="851" y1="102" x2="965.5" y2="102" stroke="#000" stroke-width="1.4" stroke-dasharray="7.5 4"/>
<path transform="translate(908.2,102.0) scale(1,1)" d="M-41.3,-18 Q-32.5,-32 -19,-41.4 C-17.5,-42.4 -16.4,-41.5 -16.6,-39.5 C-16.8,-33 -19,-27.5 -23.5,-24 C-28,-20.8 -34,-18.8 -40.5,-17 C-41.8,-16.7 -42.2,-17.2 -41.3,-18 Z" fill="#ff2600" stroke="#172c51" stroke-width="1.3" stroke-linejoin="round"/>
<path transform="translate(908.2,102.0) scale(-1,-1)" d="M-41.3,-18 Q-32.5,-32 -19,-41.4 C-17.5,-42.4 -16.4,-41.5 -16.6,-39.5 C-16.8,-33 -19,-27.5 -23.5,-24 C-28,-20.8 -34,-18.8 -40.5,-17 C-41.8,-16.7 -42.2,-17.2 -41.3,-18 Z" fill="#ff2600" stroke="#172c51" stroke-width="1.3" stroke-linejoin="round"/>
<path transform="translate(908.2,102.0) scale(-1,1)" d="M-41.3,-18 Q-32.5,-32 -19,-41.4 C-17.5,-42.4 -16.4,-41.5 -16.6,-39.5 C-16.8,-33 -19,-27.5 -23.5,-24 C-28,-20.8 -34,-18.8 -40.5,-17 C-41.8,-16.7 -42.2,-17.2 -41.3,-18 Z" fill="#00b0f0" stroke="#172c51" stroke-width="1.3" stroke-linejoin="round"/>
<path transform="translate(908.2,102.0) scale(1,-1)" d="M-41.3,-18 Q-32.5,-32 -19,-41.4 C-17.5,-42.4 -16.4,-41.5 -16.6,-39.5 C-16.8,-33 -19,-27.5 -23.5,-24 C-28,-20.8 -34,-18.8 -40.5,-17 C-41.8,-16.7 -42.2,-17.2 -41.3,-18 Z" fill="#00b0f0" stroke="#172c51" stroke-width="1.3" stroke-linejoin="round"/>
<polygon points="955.6,142.7 876.6,63.7 880.2,60.1 864.2,58 866.3,74 869.9,70.4 948.9,149.4" fill="#548235" />
<rect x="994.3" y="43.7" width="114.2" height="115.1" fill="#fff" stroke="#000" stroke-width="2.3"/>
<line x1="1051.4" y1="43.7" x2="1051.4" y2="158.8" stroke="#000" stroke-width="1.4" stroke-dasharray="7.5 4"/>
<line x1="994.3" y1="102" x2="1108.5" y2="102" stroke="#000" stroke-width="1.4" stroke-dasharray="7.5 4"/>
<path transform="translate(1051.4,102.0) scale(1,1)" d="M-41.3,-18 Q-32.5,-32 -19,-41.4 C-17.5,-42.4 -16.4,-41.5 -16.6,-39.5 C-16.8,-33 -19,-27.5 -23.5,-24 C-28,-20.8 -34,-18.8 -40.5,-17 C-41.8,-16.7 -42.2,-17.2 -41.3,-18 Z" fill="#ff2600" stroke="#172c51" stroke-width="1.3" stroke-linejoin="round"/>
<path transform="translate(1051.4,102.0) scale(-1,-1)" d="M-41.3,-18 Q-32.5,-32 -19,-41.4 C-17.5,-42.4 -16.4,-41.5 -16.6,-39.5 C-16.8,-33 -19,-27.5 -23.5,-24 C-28,-20.8 -34,-18.8 -40.5,-17 C-41.8,-16.7 -42.2,-17.2 -41.3,-18 Z" fill="#ff2600" stroke="#172c51" stroke-width="1.3" stroke-linejoin="round"/>
<path transform="translate(1051.4,102.0) scale(-1,1)" d="M-41.3,-18 Q-32.5,-32 -19,-41.4 C-17.5,-42.4 -16.4,-41.5 -16.6,-39.5 C-16.8,-33 -19,-27.5 -23.5,-24 C-28,-20.8 -34,-18.8 -40.5,-17 C-41.8,-16.7 -42.2,-17.2 -41.3,-18 Z" fill="#00b0f0" stroke="#172c51" stroke-width="1.3" stroke-linejoin="round"/>
<path transform="translate(1051.4,102.0) scale(1,-1)" d="M-41.3,-18 Q-32.5,-32 -19,-41.4 C-17.5,-42.4 -16.4,-41.5 -16.6,-39.5 C-16.8,-33 -19,-27.5 -23.5,-24 C-28,-20.8 -34,-18.8 -40.5,-17 C-41.8,-16.7 -42.2,-17.2 -41.3,-18 Z" fill="#00b0f0" stroke="#172c51" stroke-width="1.3" stroke-linejoin="round"/>
<polygon points="1092.1,54.7 1013.1,133.7 1009.5,130.1 1007.4,146.1 1023.3,144 1019.7,140.4 1098.7,61.4" fill="#548235" />
<rect x="1133.2" y="43.7" width="114.3" height="115.1" fill="#fff" stroke="#000" stroke-width="2.3"/>
<line x1="1190.3" y1="43.7" x2="1190.3" y2="158.8" stroke="#000" stroke-width="1.4" stroke-dasharray="7.5 4"/>
<line x1="1133.2" y1="102" x2="1247.5" y2="102" stroke="#000" stroke-width="1.4" stroke-dasharray="7.5 4"/>
<path transform="translate(1190.3,102.0) scale(1,1)" d="M-41.3,-18 Q-32.5,-32 -19,-41.4 C-17.5,-42.4 -16.4,-41.5 -16.6,-39.5 C-16.8,-33 -19,-27.5 -23.5,-24 C-28,-20.8 -34,-18.8 -40.5,-17 C-41.8,-16.7 -42.2,-17.2 -41.3,-18 Z" fill="#ff2600" stroke="#172c51" stroke-width="1.3" stroke-linejoin="round"/>
<path transform="translate(1190.3,102.0) scale(-1,-1)" d="M-41.3,-18 Q-32.5,-32 -19,-41.4 C-17.5,-42.4 -16.4,-41.5 -16.6,-39.5 C-16.8,-33 -19,-27.5 -23.5,-24 C-28,-20.8 -34,-18.8 -40.5,-17 C-41.8,-16.7 -42.2,-17.2 -41.3,-18 Z" fill="#ff2600" stroke="#172c51" stroke-width="1.3" stroke-linejoin="round"/>
<path transform="translate(1190.3,102.0) scale(-1,1)" d="M-41.3,-18 Q-32.5,-32 -19,-41.4 C-17.5,-42.4 -16.4,-41.5 -16.6,-39.5 C-16.8,-33 -19,-27.5 -23.5,-24 C-28,-20.8 -34,-18.8 -40.5,-17 C-41.8,-16.7 -42.2,-17.2 -41.3,-18 Z" fill="#00b0f0" stroke="#172c51" stroke-width="1.3" stroke-linejoin="round"/>
<path transform="translate(1190.3,102.0) scale(1,-1)" d="M-41.3,-18 Q-32.5,-32 -19,-41.4 C-17.5,-42.4 -16.4,-41.5 -16.6,-39.5 C-16.8,-33 -19,-27.5 -23.5,-24 C-28,-20.8 -34,-18.8 -40.5,-17 C-41.8,-16.7 -42.2,-17.2 -41.3,-18 Z" fill="#00b0f0" stroke="#172c51" stroke-width="1.3" stroke-linejoin="round"/>
<polygon points="1143,61.4 1222,140.4 1218.4,144 1234.3,146.1 1232.3,130.1 1228.7,133.7 1149.7,54.7" fill="#548235" />
<rect x="1269.0" y="43.7" width="114.5" height="115.1" fill="#fff" stroke="#000" stroke-width="2.3"/>
<line x1="1326.2" y1="43.7" x2="1326.2" y2="158.8" stroke="#000" stroke-width="1.4" stroke-dasharray="7.5 4"/>
<line x1="1269" y1="102" x2="1383.5" y2="102" stroke="#000" stroke-width="1.4" stroke-dasharray="7.5 4"/>
<path transform="translate(1326.2,102.0) scale(1,1)" d="M-41.3,-18 Q-32.5,-32 -19,-41.4 C-17.5,-42.4 -16.4,-41.5 -16.6,-39.5 C-16.8,-33 -19,-27.5 -23.5,-24 C-28,-20.8 -34,-18.8 -40.5,-17 C-41.8,-16.7 -42.2,-17.2 -41.3,-18 Z" fill="#ff2600" stroke="#172c51" stroke-width="1.3" stroke-linejoin="round"/>
<path transform="translate(1326.2,102.0) scale(-1,-1)" d="M-41.3,-18 Q-32.5,-32 -19,-41.4 C-17.5,-42.4 -16.4,-41.5 -16.6,-39.5 C-16.8,-33 -19,-27.5 -23.5,-24 C-28,-20.8 -34,-18.8 -40.5,-17 C-41.8,-16.7 -42.2,-17.2 -41.3,-18 Z" fill="#ff2600" stroke="#172c51" stroke-width="1.3" stroke-linejoin="round"/>
<path transform="translate(1326.2,102.0) scale(-1,1)" d="M-41.3,-18 Q-32.5,-32 -19,-41.4 C-17.5,-42.4 -16.4,-41.5 -16.6,-39.5 C-16.8,-33 -19,-27.5 -23.5,-24 C-28,-20.8 -34,-18.8 -40.5,-17 C-41.8,-16.7 -42.2,-17.2 -41.3,-18 Z" fill="#00b0f0" stroke="#172c51" stroke-width="1.3" stroke-linejoin="round"/>
<path transform="translate(1326.2,102.0) scale(1,-1)" d="M-41.3,-18 Q-32.5,-32 -19,-41.4 C-17.5,-42.4 -16.4,-41.5 -16.6,-39.5 C-16.8,-33 -19,-27.5 -23.5,-24 C-28,-20.8 -34,-18.8 -40.5,-17 C-41.8,-16.7 -42.2,-17.2 -41.3,-18 Z" fill="#00b0f0" stroke="#172c51" stroke-width="1.3" stroke-linejoin="round"/>
<polygon points="1285.6,149.4 1364.6,70.4 1368.2,74 1370.2,58 1354.3,60.1 1357.9,63.7 1278.9,142.7" fill="#548235" />
<text x="673" y="31.3" font-size="38" fill="#548235"><tspan font-family="'Liberation Sans', Arial, sans-serif" font-style="italic">B</tspan><tspan font-family="'Liberation Sans', Arial, sans-serif" dx="7.5" font-size="37" letter-spacing="-0.6">||</tspan></text>
<text x="736.5" y="31.3" fill="#548235" font-family="'Liberation Serif', 'Times New Roman', serif" stroke="#548235" stroke-width="0.4"><tspan font-size="40" dy="1.5">[</tspan><tspan font-size="36.5" dy="-1.5" dx="-1.5" letter-spacing="2.4">110</tspan><tspan font-size="40" dy="1.5" dx="-3">]</tspan></text>
<text x="872.5" y="31.3" fill="#548235" font-family="'Liberation Serif', 'Times New Roman', serif" stroke="#548235" stroke-width="0.4"><tspan font-size="40" dy="1.5">[</tspan><tspan font-size="36.5" dy="-1.5" dx="-1.5" letter-spacing="2.4">110</tspan><tspan font-size="40" dy="1.5" dx="-3">]</tspan></text>
<line x1="883" y1="1" x2="899.5" y2="1" stroke="#548235" stroke-width="2" />
<text x="1017.5" y="31.3" fill="#548235" font-family="'Liberation Serif', 'Times New Roman', serif" stroke="#548235" stroke-width="0.4"><tspan font-size="40" dy="1.5">[</tspan><tspan font-size="36.5" dy="-1.5" dx="-1.5" letter-spacing="2.4">110</tspan><tspan font-size="40" dy="1.5" dx="-3">]</tspan></text>
<line x1="1028" y1="1" x2="1044.5" y2="1" stroke="#548235" stroke-width="2" />
<line x1="1048.3" y1="1" x2="1064.8" y2="1" stroke="#548235" stroke-width="2" />
<text x="1155.5" y="31.3" fill="#548235" font-family="'Liberation Serif', 'Times New Roman', serif" stroke="#548235" stroke-width="0.4"><tspan font-size="40" dy="1.5">[</tspan><tspan font-size="36.5" dy="-1.5" dx="-1.5" letter-spacing="2.4">110</tspan><tspan font-size="40" dy="1.5" dx="-3">]</tspan></text>
<line x1="1186.3" y1="1" x2="1202.8" y2="1" stroke="#548235" stroke-width="2" />
<text x="1283" y="31.3" fill="#548235" font-family="'Liberation Serif', 'Times New Roman', serif" stroke="#548235" stroke-width="0.4"><tspan font-size="40" dy="1.5">[</tspan><tspan font-size="36.5" dy="-1.5" dx="-1.5" letter-spacing="2.4">110</tspan><tspan font-size="40" dy="1.5" dx="-3">]</tspan></text>
</g>
<g id="panel-d">
<text x="1496.3" y="59.8" font-family="'Liberation Sans', Arial, sans-serif" font-size="40.5" text-anchor="start" fill="#000" font-weight="bold">d</text>
<rect x="1617.0" y="27.3" width="341.1" height="341.2" fill="none" stroke="#000" stroke-width="2"/>
<line x1="1636.3" y1="27.3" x2="1636.3" y2="33.5" stroke="#000" stroke-width="1.7" />
<line x1="1636.3" y1="368.5" x2="1636.3" y2="362.3" stroke="#000" stroke-width="1.7" />
<text x="1636.3" y="397.8" font-family="'Liberation Serif', 'Times New Roman', serif" font-size="27.4" text-anchor="middle" fill="#000" >0</text>
<line x1="1680.2" y1="27.3" x2="1680.2" y2="33.5" stroke="#000" stroke-width="1.7" />
<line x1="1680.2" y1="368.5" x2="1680.2" y2="362.3" stroke="#000" stroke-width="1.7" />
<text x="1680.2" y="397.8" font-family="'Liberation Serif', 'Times New Roman', serif" font-size="27.4" text-anchor="middle" fill="#000" >45</text>
<line x1="1724.1" y1="27.3" x2="1724.1" y2="33.5" stroke="#000" stroke-width="1.7" />
<line x1="1724.1" y1="368.5" x2="1724.1" y2="362.3" stroke="#000" stroke-width="1.7" />
<text x="1724.1" y="397.8" font-family="'Liberation Serif', 'Times New Roman', serif" font-size="27.4" text-anchor="middle" fill="#000" >90</text>
<line x1="1768" y1="27.3" x2="1768" y2="33.5" stroke="#000" stroke-width="1.7" />
<line x1="1768" y1="368.5" x2="1768" y2="362.3" stroke="#000" stroke-width="1.7" />
<text x="1768" y="397.8" font-family="'Liberation Serif', 'Times New Roman', serif" font-size="27.4" text-anchor="middle" fill="#000" >135</text>
<line x1="1812" y1="27.3" x2="1812" y2="33.5" stroke="#000" stroke-width="1.7" />
<line x1="1812" y1="368.5" x2="1812" y2="362.3" stroke="#000" stroke-width="1.7" />
<text x="1812" y="397.8" font-family="'Liberation Serif', 'Times New Roman', serif" font-size="27.4" text-anchor="middle" fill="#000" >180</text>
<line x1="1855.9" y1="27.3" x2="1855.9" y2="33.5" stroke="#000" stroke-width="1.7" />
<line x1="1855.9" y1="368.5" x2="1855.9" y2="362.3" stroke="#000" stroke-width="1.7" />
<text x="1855.9" y="397.8" font-family="'Liberation Serif', 'Times New Roman', serif" font-size="27.4" text-anchor="middle" fill="#000" >225</text>
<line x1="1899.8" y1="27.3" x2="1899.8" y2="33.5" stroke="#000" stroke-width="1.7" />
<line x1="1899.8" y1="368.5" x2="1899.8" y2="362.3" stroke="#000" stroke-width="1.7" />
<text x="1899.8" y="397.8" font-family="'Liberation Serif', 'Times New Roman', serif" font-size="27.4" text-anchor="middle" fill="#000" >270</text>
<line x1="1943.7" y1="27.3" x2="1943.7" y2="33.5" stroke="#000" stroke-width="1.7" />
<line x1="1943.7" y1="368.5" x2="1943.7" y2="362.3" stroke="#000" stroke-width="1.7" />
<text x="1943.7" y="397.8" font-family="'Liberation Serif', 'Times New Roman', serif" font-size="27.4" text-anchor="middle" fill="#000" >315</text>
<line x1="1617" y1="37.8" x2="1623.8" y2="37.8" stroke="#000" stroke-width="1.7" />
<line x1="1958.1" y1="37.8" x2="1951.3" y2="37.8" stroke="#000" stroke-width="1.7" />
<text x="1613" y="47" font-family="'Liberation Serif', 'Times New Roman', serif" font-size="27.4" text-anchor="end" fill="#000" >-10</text>
<line x1="1617" y1="88.7" x2="1623.8" y2="88.7" stroke="#000" stroke-width="1.7" />
<line x1="1958.1" y1="88.7" x2="1951.3" y2="88.7" stroke="#000" stroke-width="1.7" />
<text x="1613" y="97.9" font-family="'Liberation Serif', 'Times New Roman', serif" font-size="27.4" text-anchor="end" fill="#000" >-20</text>
<line x1="1617" y1="139.6" x2="1623.8" y2="139.6" stroke="#000" stroke-width="1.7" />
<line x1="1958.1" y1="139.6" x2="1951.3" y2="139.6" stroke="#000" stroke-width="1.7" />
<text x="1613" y="148.8" font-family="'Liberation Serif', 'Times New Roman', serif" font-size="27.4" text-anchor="end" fill="#000" >-30</text>
<line x1="1617" y1="190.5" x2="1623.8" y2="190.5" stroke="#000" stroke-width="1.7" />
<line x1="1958.1" y1="190.5" x2="1951.3" y2="190.5" stroke="#000" stroke-width="1.7" />
<text x="1613" y="199.7" font-family="'Liberation Serif', 'Times New Roman', serif" font-size="27.4" text-anchor="end" fill="#000" >-40</text>
<line x1="1617" y1="241.4" x2="1623.8" y2="241.4" stroke="#000" stroke-width="1.7" />
<line x1="1958.1" y1="241.4" x2="1951.3" y2="241.4" stroke="#000" stroke-width="1.7" />
<text x="1613" y="250.6" font-family="'Liberation Serif', 'Times New Roman', serif" font-size="27.4" text-anchor="end" fill="#000" >-50</text>
<line x1="1617" y1="292.3" x2="1623.8" y2="292.3" stroke="#000" stroke-width="1.7" />
<line x1="1958.1" y1="292.3" x2="1951.3" y2="292.3" stroke="#000" stroke-width="1.7" />
<text x="1613" y="301.5" font-family="'Liberation Serif', 'Times New Roman', serif" font-size="27.4" text-anchor="end" fill="#000" >-60</text>
<line x1="1617" y1="343.2" x2="1623.8" y2="343.2" stroke="#000" stroke-width="1.7" />
<line x1="1958.1" y1="343.2" x2="1951.3" y2="343.2" stroke="#000" stroke-width="1.7" />
<text x="1613" y="352.4" font-family="'Liberation Serif', 'Times New Roman', serif" font-size="27.4" text-anchor="end" fill="#000" >-70</text>
<line x1="1617" y1="63.2" x2="1621.2" y2="63.2" stroke="#000" stroke-width="1.7" />
<line x1="1958.1" y1="63.2" x2="1953.9" y2="63.2" stroke="#000" stroke-width="1.7" />
<line x1="1617" y1="114.1" x2="1621.2" y2="114.1" stroke="#000" stroke-width="1.7" />
<line x1="1958.1" y1="114.1" x2="1953.9" y2="114.1" stroke="#000" stroke-width="1.7" />
<line x1="1617" y1="165.1" x2="1621.2" y2="165.1" stroke="#000" stroke-width="1.7" />
<line x1="1958.1" y1="165.1" x2="1953.9" y2="165.1" stroke="#000" stroke-width="1.7" />
<line x1="1617" y1="215.9" x2="1621.2" y2="215.9" stroke="#000" stroke-width="1.7" />
<line x1="1958.1" y1="215.9" x2="1953.9" y2="215.9" stroke="#000" stroke-width="1.7" />
<line x1="1617" y1="266.8" x2="1621.2" y2="266.8" stroke="#000" stroke-width="1.7" />
<line x1="1958.1" y1="266.8" x2="1953.9" y2="266.8" stroke="#000" stroke-width="1.7" />
<line x1="1617" y1="317.8" x2="1621.2" y2="317.8" stroke="#000" stroke-width="1.7" />
<line x1="1958.1" y1="317.8" x2="1953.9" y2="317.8" stroke="#000" stroke-width="1.7" />
<line x1="1617" y1="368.6" x2="1621.2" y2="368.6" stroke="#000" stroke-width="1.7" />
<line x1="1958.1" y1="368.6" x2="1953.9" y2="368.6" stroke="#000" stroke-width="1.7" />
<polyline points="1617,80 1618.9,93.5 1620.9,100 1622.8,104.3 1624.8,109.8 1626.7,108.9 1628.7,105.9 1630.6,102.4 1632.6,106.3 1634.5,105.9 1636.5,103.6 1638.4,100.4 1640.4,92.3 1642.3,86.9 1644.3,82.8 1646.2,86.5 1648.2,82.2 1650.1,85.4 1652.1,79.8 1654,70.8 1656,70.9 1657.9,71.2 1659.9,86.4 1661.8,76.7 1663.8,67.9 1665.7,67.6 1667.7,72 1669.6,82.2 1671.6,79.8 1673.5,77.3 1675.5,74.7 1677.4,72.9 1679.4,78.3 1681.3,80.9 1683.3,84 1685.2,87.5 1687.2,87.1 1689.1,81.3 1691.1,82.2 1693,83.2 1695,73.1 1696.9,75.6 1698.9,77.4 1700.8,75.7 1702.8,74 1704.7,84.8 1706.7,78 1708.6,69.3 1710.6,68.6 1712.5,68.2 1714.5,56.4 1716.4,54.7 1718.4,45.2 1720.3,36.2 1722.3,38.6 1724.2,42.4 1726.2,43.2 1728.1,44.1 1730.1,46.3 1732,56.5 1733.9,68.4 1735.9,70.1 1737.8,69.8 1739.8,68 1741.7,64.7 1743.7,67.2 1745.6,69.4 1747.6,70.3 1749.5,66.9 1751.5,65.7 1753.4,75.9 1755.4,81.8 1757.3,85.3 1759.3,81.5 1761.2,78.8 1763.2,85 1765.1,86.1 1767.1,86.5 1769,82.5 1771,78.2 1772.9,74.3 1774.9,73.2 1776.8,72.5 1778.8,69.9 1780.7,68.3 1782.7,73.5 1784.6,77.8 1786.6,64.1 1788.5,64.2 1790.5,67 1792.4,70.6 1794.4,69.4 1796.3,60 1798.3,64.5 1800.2,71.9 1802.2,79.7 1804.1,93.4 1806.1,105.5 1808,112.1 1810,109.3 1811.9,104.2 1813.9,99.8 1815.8,96.5 1817.8,94.5 1819.7,92.5 1821.7,93.9 1823.6,84.3 1825.6,82.3 1827.5,85.5 1829.5,84.6 1831.4,75.1 1833.4,71.2 1835.3,66.2 1837.3,66 1839.2,69.6 1841.2,75.4 1843.1,69.5 1845,60.9 1847,63.8 1848.9,59.6 1850.9,71.8 1852.8,72.9 1854.8,71.5 1856.7,70.2 1858.7,78.8 1860.6,79.2 1862.6,77 1864.5,74 1866.5,68.1 1868.4,74.6 1870.4,77.5 1872.3,70.1 1874.3,72.1 1876.2,79.9 1878.2,72 1880.1,64.2 1882.1,80.9 1884,81.2 1886,66.3 1887.9,67.9 1889.9,62.5 1891.8,58 1893.8,53.3 1895.7,42.2 1897.7,42.6 1899.6,38.4 1901.6,43.7 1903.5,44.9 1905.5,53.7 1907.4,56.3 1909.4,59.9 1911.3,62.4 1913.3,61.8 1915.2,66.7 1917.2,72.9 1919.1,78 1921.1,76.3 1923,73.4 1925,74 1926.9,74.4 1928.9,73.1 1930.8,76 1932.8,79 1934.7,75.6 1936.7,73.9 1938.6,75.4 1940.6,76.4 1942.5,71.2 1944.5,66 1946.4,67.6 1948.4,70.2 1950.3,65.5 1952.3,66.4 1954.2,68.4 1956.2,67 1958.1,65.6" fill="none" stroke="#444444" stroke-width="2.4" stroke-linejoin="round" />
<path d="M1617,80h0M1618.9,93.5h0M1620.9,100h0M1622.8,104.3h0M1624.8,109.8h0M1626.7,108.9h0M1628.7,105.9h0M1630.6,102.4h0M1632.6,106.3h0M1634.5,105.9h0M1636.5,103.6h0M1638.4,100.4h0M1640.4,92.3h0M1642.3,86.9h0M1644.3,82.8h0M1646.2,86.5h0M1648.2,82.2h0M1650.1,85.4h0M1652.1,79.8h0M1654,70.8h0M1656,70.9h0M1657.9,71.2h0M1659.9,86.4h0M1661.8,76.7h0M1663.8,67.9h0M1665.7,67.6h0M1667.7,72h0M1669.6,82.2h0M1671.6,79.8h0M1673.5,77.3h0M1675.5,74.7h0M1677.4,72.9h0M1679.4,78.3h0M1681.3,80.9h0M1683.3,84h0M1685.2,87.5h0M1687.2,87.1h0M1689.1,81.3h0M1691.1,82.2h0M1693,83.2h0M1695,73.1h0M1696.9,75.6h0M1698.9,77.4h0M1700.8,75.7h0M1702.8,74h0M1704.7,84.8h0M1706.7,78h0M1708.6,69.3h0M1710.6,68.6h0M1712.5,68.2h0M1714.5,56.4h0M1716.4,54.7h0M1718.4,45.2h0M1720.3,36.2h0M1722.3,38.6h0M1724.2,42.4h0M1726.2,43.2h0M1728.1,44.1h0M1730.1,46.3h0M1732,56.5h0M1733.9,68.4h0M1735.9,70.1h0M1737.8,69.8h0M1739.8,68h0M1741.7,64.7h0M1743.7,67.2h0M1745.6,69.4h0M1747.6,70.3h0M1749.5,66.9h0M1751.5,65.7h0M1753.4,75.9h0M1755.4,81.8h0M1757.3,85.3h0M1759.3,81.5h0M1761.2,78.8h0M1763.2,85h0M1765.1,86.1h0M1767.1,86.5h0M1769,82.5h0M1771,78.2h0M1772.9,74.3h0M1774.9,73.2h0M1776.8,72.5h0M1778.8,69.9h0M1780.7,68.3h0M1782.7,73.5h0M1784.6,77.8h0M1786.6,64.1h0M1788.5,64.2h0M1790.5,67h0M1792.4,70.6h0M1794.4,69.4h0M1796.3,60h0M1798.3,64.5h0M1800.2,71.9h0M1802.2,79.7h0M1804.1,93.4h0M1806.1,105.5h0M1808,112.1h0M1810,109.3h0M1811.9,104.2h0M1813.9,99.8h0M1815.8,96.5h0M1817.8,94.5h0M1819.7,92.5h0M1821.7,93.9h0M1823.6,84.3h0M1825.6,82.3h0M1827.5,85.5h0M1829.5,84.6h0M1831.4,75.1h0M1833.4,71.2h0M1835.3,66.2h0M1837.3,66h0M1839.2,69.6h0M1841.2,75.4h0M1843.1,69.5h0M1845,60.9h0M1847,63.8h0M1848.9,59.6h0M1850.9,71.8h0M1852.8,72.9h0M1854.8,71.5h0M1856.7,70.2h0M1858.7,78.8h0M1860.6,79.2h0M1862.6,77h0M1864.5,74h0M1866.5,68.1h0M1868.4,74.6h0M1870.4,77.5h0M1872.3,70.1h0M1874.3,72.1h0M1876.2,79.9h0M1878.2,72h0M1880.1,64.2h0M1882.1,80.9h0M1884,81.2h0M1886,66.3h0M1887.9,67.9h0M1889.9,62.5h0M1891.8,58h0M1893.8,53.3h0M1895.7,42.2h0M1897.7,42.6h0M1899.6,38.4h0M1901.6,43.7h0M1903.5,44.9h0M1905.5,53.7h0M1907.4,56.3h0M1909.4,59.9h0M1911.3,62.4h0M1913.3,61.8h0M1915.2,66.7h0M1917.2,72.9h0M1919.1,78h0M1921.1,76.3h0M1923,73.4h0M1925,74h0M1926.9,74.4h0M1928.9,73.1h0M1930.8,76h0M1932.8,79h0M1934.7,75.6h0M1936.7,73.9h0M1938.6,75.4h0M1940.6,76.4h0M1942.5,71.2h0M1944.5,66h0M1946.4,67.6h0M1948.4,70.2h0M1950.3,65.5h0M1952.3,66.4h0M1954.2,68.4h0M1956.2,67h0M1958.1,65.6h0" fill="none" stroke="#444444" stroke-width="5.8" stroke-linecap="round"/>
<polyline points="1617,164 1618.9,165.9 1620.9,169.8 1622.8,173.8 1624.8,172.2 1626.7,172.1 1628.7,173.1 1630.6,177.4 1632.6,167.6 1634.5,157.5 1636.5,158.4 1638.4,160 1640.4,161.4 1642.3,154.6 1644.3,156.1 1646.2,157.6 1648.2,158.7 1650.1,155.2 1652.1,143.4 1654,135.7 1656,133.3 1657.9,131 1659.9,136.7 1661.8,134.9 1663.8,136.4 1665.7,140.7 1667.7,142.9 1669.6,144.2 1671.6,139.4 1673.5,136.9 1675.5,139.5 1677.4,142.1 1679.4,144.3 1681.3,151 1683.3,149.4 1685.2,147.8 1687.2,149.1 1689.1,151.5 1691.1,155.6 1693,145.9 1695,145.5 1696.9,147.3 1698.9,150.4 1700.8,157.1 1702.8,160.4 1704.7,153.1 1706.7,149.2 1708.6,138 1710.6,132.6 1712.5,127.7 1714.5,112.7 1716.4,102.5 1718.4,93.3 1720.3,90.9 1722.3,93 1724.2,94.9 1726.2,96 1728.1,110.3 1730.1,113.9 1732,121.2 1733.9,136 1735.9,140.7 1737.8,135.5 1739.8,135.9 1741.7,138.3 1743.7,141.7 1745.6,146.5 1747.6,151.5 1749.5,147.8 1751.5,145.2 1753.4,154.1 1755.4,155.2 1757.3,146.1 1759.3,147.8 1761.2,150.7 1763.2,154.7 1765.1,148.5 1767.1,139.8 1769,142.5 1771,153 1772.9,149.2 1774.9,139.1 1776.8,137.2 1778.8,140 1780.7,136.7 1782.7,129.3 1784.6,135.1 1786.6,137.9 1788.5,139.3 1790.5,141.7 1792.4,140.1 1794.4,138.4 1796.3,138.1 1798.3,138.1 1800.2,140.5 1802.2,143.8 1804.1,152.2 1806.1,153.3 1808,154.4 1810,165.5 1811.9,170.2 1813.9,169.2 1815.8,168.2 1817.8,157 1819.7,158 1821.7,159 1823.6,154.3 1825.6,149.3 1827.5,144.5 1829.5,147.7 1831.4,150.9 1833.4,139.9 1835.3,141.2 1837.3,142 1839.2,138.4 1841.2,138.7 1843.1,141.1 1845,134.3 1847,137 1848.9,138.2 1850.9,135.5 1852.8,141 1854.8,150.5 1856.7,149.8 1858.7,149.1 1860.6,149.1 1862.6,152 1864.5,154.6 1866.5,150 1868.4,149.9 1870.4,152 1872.3,155.5 1874.3,148.1 1876.2,140.6 1878.2,146.1 1880.1,143.6 1882.1,129.8 1884,128.4 1886,131.4 1887.9,130.3 1889.9,117.3 1891.8,112.3 1893.8,106.5 1895.7,94.7 1897.7,90.9 1899.6,89.4 1901.6,89.1 1903.5,90.6 1905.5,97.4 1907.4,105.3 1909.4,111.9 1911.3,118.6 1913.3,128.3 1915.2,133.1 1917.2,142.2 1919.1,152 1921.1,156.2 1923,153.4 1925,145.1 1926.9,142.4 1928.9,140.5 1930.8,143.8 1932.8,147.3 1934.7,153.1 1936.7,160.2 1938.6,158.3 1940.6,148.5 1942.5,142.4 1944.5,151 1946.4,146.5 1948.4,133.8 1950.3,134.7 1952.3,145 1954.2,145.1 1956.2,138.7 1958.1,138.3" fill="none" stroke="#0000ff" stroke-width="2.4" stroke-linejoin="round" />
<path d="M1617,164h0M1618.9,165.9h0M1620.9,169.8h0M1622.8,173.8h0M1624.8,172.2h0M1626.7,172.1h0M1628.7,173.1h0M1630.6,177.4h0M1632.6,167.6h0M1634.5,157.5h0M1636.5,158.4h0M1638.4,160h0M1640.4,161.4h0M1642.3,154.6h0M1644.3,156.1h0M1646.2,157.6h0M1648.2,158.7h0M1650.1,155.2h0M1652.1,143.4h0M1654,135.7h0M1656,133.3h0M1657.9,131h0M1659.9,136.7h0M1661.8,134.9h0M1663.8,136.4h0M1665.7,140.7h0M1667.7,142.9h0M1669.6,144.2h0M1671.6,139.4h0M1673.5,136.9h0M1675.5,139.5h0M1677.4,142.1h0M1679.4,144.3h0M1681.3,151h0M1683.3,149.4h0M1685.2,147.8h0M1687.2,149.1h0M1689.1,151.5h0M1691.1,155.6h0M1693,145.9h0M1695,145.5h0M1696.9,147.3h0M1698.9,150.4h0M1700.8,157.1h0M1702.8,160.4h0M1704.7,153.1h0M1706.7,149.2h0M1708.6,138h0M1710.6,132.6h0M1712.5,127.7h0M1714.5,112.7h0M1716.4,102.5h0M1718.4,93.3h0M1720.3,90.9h0M1722.3,93h0M1724.2,94.9h0M1726.2,96h0M1728.1,110.3h0M1730.1,113.9h0M1732,121.2h0M1733.9,136h0M1735.9,140.7h0M1737.8,135.5h0M1739.8,135.9h0M1741.7,138.3h0M1743.7,141.7h0M1745.6,146.5h0M1747.6,151.5h0M1749.5,147.8h0M1751.5,145.2h0M1753.4,154.1h0M1755.4,155.2h0M1757.3,146.1h0M1759.3,147.8h0M1761.2,150.7h0M1763.2,154.7h0M1765.1,148.5h0M1767.1,139.8h0M1769,142.5h0M1771,153h0M1772.9,149.2h0M1774.9,139.1h0M1776.8,137.2h0M1778.8,140h0M1780.7,136.7h0M1782.7,129.3h0M1784.6,135.1h0M1786.6,137.9h0M1788.5,139.3h0M1790.5,141.7h0M1792.4,140.1h0M1794.4,138.4h0M1796.3,138.1h0M1798.3,138.1h0M1800.2,140.5h0M1802.2,143.8h0M1804.1,152.2h0M1806.1,153.3h0M1808,154.4h0M1810,165.5h0M1811.9,170.2h0M1813.9,169.2h0M1815.8,168.2h0M1817.8,157h0M1819.7,158h0M1821.7,159h0M1823.6,154.3h0M1825.6,149.3h0M1827.5,144.5h0M1829.5,147.7h0M1831.4,150.9h0M1833.4,139.9h0M1835.3,141.2h0M1837.3,142h0M1839.2,138.4h0M1841.2,138.7h0M1843.1,141.1h0M1845,134.3h0M1847,137h0M1848.9,138.2h0M1850.9,135.5h0M1852.8,141h0M1854.8,150.5h0M1856.7,149.8h0M1858.7,149.1h0M1860.6,149.1h0M1862.6,152h0M1864.5,154.6h0M1866.5,150h0M1868.4,149.9h0M1870.4,152h0M1872.3,155.5h0M1874.3,148.1h0M1876.2,140.6h0M1878.2,146.1h0M1880.1,143.6h0M1882.1,129.8h0M1884,128.4h0M1886,131.4h0M1887.9,130.3h0M1889.9,117.3h0M1891.8,112.3h0M1893.8,106.5h0M1895.7,94.7h0M1897.7,90.9h0M1899.6,89.4h0M1901.6,89.1h0M1903.5,90.6h0M1905.5,97.4h0M1907.4,105.3h0M1909.4,111.9h0M1911.3,118.6h0M1913.3,128.3h0M1915.2,133.1h0M1917.2,142.2h0M1919.1,152h0M1921.1,156.2h0M1923,153.4h0M1925,145.1h0M1926.9,142.4h0M1928.9,140.5h0M1930.8,143.8h0M1932.8,147.3h0M1934.7,153.1h0M1936.7,160.2h0M1938.6,158.3h0M1940.6,148.5h0M1942.5,142.4h0M1944.5,151h0M1946.4,146.5h0M1948.4,133.8h0M1950.3,134.7h0M1952.3,145h0M1954.2,145.1h0M1956.2,138.7h0M1958.1,138.3h0" fill="none" stroke="#0000ff" stroke-width="5.8" stroke-linecap="round"/>
<polyline points="1617,239.4 1618.9,246 1620.9,250.4 1622.8,254.1 1624.8,256.9 1626.7,260 1628.7,259.4 1630.6,254.9 1632.6,245.4 1634.5,244.6 1636.5,243.8 1638.4,240 1640.4,236.2 1642.3,234.4 1644.3,232.7 1646.2,228.1 1648.2,223.3 1650.1,219.7 1652.1,217.1 1654,216.4 1656,215.7 1657.9,212.6 1659.9,204.6 1661.8,205.2 1663.8,207.8 1665.7,213.5 1667.7,217.4 1669.6,217.1 1671.6,216 1673.5,214.4 1675.5,224.2 1677.4,220.3 1679.4,218.3 1681.3,221.3 1683.3,224.9 1685.2,228.8 1687.2,232.6 1689.1,231.6 1691.1,230.7 1693,231.2 1695,231.9 1696.9,232.6 1698.9,236.7 1700.8,235.7 1702.8,234.7 1704.7,231.6 1706.7,228.1 1708.6,224.2 1710.6,216.6 1712.5,211.2 1714.5,197.4 1716.4,195.1 1718.4,181.8 1720.3,174.8 1722.3,175.1 1724.2,176.5 1726.2,179.1 1728.1,186.5 1730.1,197.5 1732,205.8 1733.9,210.2 1735.9,215.2 1737.8,219.6 1739.8,221.6 1741.7,223.6 1743.7,226.1 1745.6,228.6 1747.6,232 1749.5,231.8 1751.5,231.6 1753.4,230.8 1755.4,229.8 1757.3,226.3 1759.3,223.8 1761.2,223 1763.2,222.3 1765.1,222.4 1767.1,222.6 1769,223.2 1771,225.5 1772.9,233.3 1774.9,229.4 1776.8,220.8 1778.8,213.4 1780.7,210.7 1782.7,210.8 1784.6,211.5 1786.6,210.6 1788.5,208.9 1790.5,208.5 1792.4,212 1794.4,210.5 1796.3,208.5 1798.3,208.9 1800.2,215.6 1802.2,228.3 1804.1,238.3 1806.1,251.1 1808,254.2 1810,256.3 1811.9,258.1 1813.9,259.6 1815.8,260 1817.8,256.1 1819.7,250.9 1821.7,243.6 1823.6,237.8 1825.6,232.3 1827.5,229.7 1829.5,224.4 1831.4,217.1 1833.4,211.9 1835.3,209.7 1837.3,210.6 1839.2,211.4 1841.2,213 1843.1,214.9 1845,222.2 1847,222.2 1848.9,222.2 1850.9,223.4 1852.8,224.8 1854.8,228.5 1856.7,231.3 1858.7,232.6 1860.6,227.4 1862.6,228.1 1864.5,229.5 1866.5,230.7 1868.4,231.5 1870.4,232.4 1872.3,233.1 1874.3,231.6 1876.2,230 1878.2,228.3 1880.1,226.4 1882.1,224.3 1884,222.1 1886,220 1887.9,218 1889.9,208.2 1891.8,200.2 1893.8,189.9 1895.7,178.2 1897.7,172.6 1899.6,170.7 1901.6,170.8 1903.5,172.2 1905.5,177.3 1907.4,182.9 1909.4,188.6 1911.3,196.8 1913.3,209 1915.2,214.1 1917.2,217.6 1919.1,220.9 1921.1,228.4 1923,232.7 1925,231.6 1926.9,229.8 1928.9,231.8 1930.8,233.6 1932.8,229.7 1934.7,225.8 1936.7,224.6 1938.6,228.5 1940.6,232 1942.5,235.3 1944.5,231.7 1946.4,229.2 1948.4,228.6 1950.3,221.6 1952.3,219.3 1954.2,215.6 1956.2,212.3 1958.1,212.3" fill="none" stroke="#00cc00" stroke-width="2.4" stroke-linejoin="round" />
<path d="M1617,239.4h0M1618.9,246h0M1620.9,250.4h0M1622.8,254.1h0M1624.8,256.9h0M1626.7,260h0M1628.7,259.4h0M1630.6,254.9h0M1632.6,245.4h0M1634.5,244.6h0M1636.5,243.8h0M1638.4,240h0M1640.4,236.2h0M1642.3,234.4h0M1644.3,232.7h0M1646.2,228.1h0M1648.2,223.3h0M1650.1,219.7h0M1652.1,217.1h0M1654,216.4h0M1656,215.7h0M1657.9,212.6h0M1659.9,204.6h0M1661.8,205.2h0M1663.8,207.8h0M1665.7,213.5h0M1667.7,217.4h0M1669.6,217.1h0M1671.6,216h0M1673.5,214.4h0M1675.5,224.2h0M1677.4,220.3h0M1679.4,218.3h0M1681.3,221.3h0M1683.3,224.9h0M1685.2,228.8h0M1687.2,232.6h0M1689.1,231.6h0M1691.1,230.7h0M1693,231.2h0M1695,231.9h0M1696.9,232.6h0M1698.9,236.7h0M1700.8,235.7h0M1702.8,234.7h0M1704.7,231.6h0M1706.7,228.1h0M1708.6,224.2h0M1710.6,216.6h0M1712.5,211.2h0M1714.5,197.4h0M1716.4,195.1h0M1718.4,181.8h0M1720.3,174.8h0M1722.3,175.1h0M1724.2,176.5h0M1726.2,179.1h0M1728.1,186.5h0M1730.1,197.5h0M1732,205.8h0M1733.9,210.2h0M1735.9,215.2h0M1737.8,219.6h0M1739.8,221.6h0M1741.7,223.6h0M1743.7,226.1h0M1745.6,228.6h0M1747.6,232h0M1749.5,231.8h0M1751.5,231.6h0M1753.4,230.8h0M1755.4,229.8h0M1757.3,226.3h0M1759.3,223.8h0M1761.2,223h0M1763.2,222.3h0M1765.1,222.4h0M1767.1,222.6h0M1769,223.2h0M1771,225.5h0M1772.9,233.3h0M1774.9,229.4h0M1776.8,220.8h0M1778.8,213.4h0M1780.7,210.7h0M1782.7,210.8h0M1784.6,211.5h0M1786.6,210.6h0M1788.5,208.9h0M1790.5,208.5h0M1792.4,212h0M1794.4,210.5h0M1796.3,208.5h0M1798.3,208.9h0M1800.2,215.6h0M1802.2,228.3h0M1804.1,238.3h0M1806.1,251.1h0M1808,254.2h0M1810,256.3h0M1811.9,258.1h0M1813.9,259.6h0M1815.8,260h0M1817.8,256.1h0M1819.7,250.9h0M1821.7,243.6h0M1823.6,237.8h0M1825.6,232.3h0M1827.5,229.7h0M1829.5,224.4h0M1831.4,217.1h0M1833.4,211.9h0M1835.3,209.7h0M1837.3,210.6h0M1839.2,211.4h0M1841.2,213h0M1843.1,214.9h0M1845,222.2h0M1847,222.2h0M1848.9,222.2h0M1850.9,223.4h0M1852.8,224.8h0M1854.8,228.5h0M1856.7,231.3h0M1858.7,232.6h0M1860.6,227.4h0M1862.6,228.1h0M1864.5,229.5h0M1866.5,230.7h0M1868.4,231.5h0M1870.4,232.4h0M1872.3,233.1h0M1874.3,231.6h0M1876.2,230h0M1878.2,228.3h0M1880.1,226.4h0M1882.1,224.3h0M1884,222.1h0M1886,220h0M1887.9,218h0M1889.9,208.2h0M1891.8,200.2h0M1893.8,189.9h0M1895.7,178.2h0M1897.7,172.6h0M1899.6,170.7h0M1901.6,170.8h0M1903.5,172.2h0M1905.5,177.3h0M1907.4,182.9h0M1909.4,188.6h0M1911.3,196.8h0M1913.3,209h0M1915.2,214.1h0M1917.2,217.6h0M1919.1,220.9h0M1921.1,228.4h0M1923,232.7h0M1925,231.6h0M1926.9,229.8h0M1928.9,231.8h0M1930.8,233.6h0M1932.8,229.7h0M1934.7,225.8h0M1936.7,224.6h0M1938.6,228.5h0M1940.6,232h0M1942.5,235.3h0M1944.5,231.7h0M1946.4,229.2h0M1948.4,228.6h0M1950.3,221.6h0M1952.3,219.3h0M1954.2,215.6h0M1956.2,212.3h0M1958.1,212.3h0" fill="none" stroke="#00cc00" stroke-width="5.8" stroke-linecap="round"/>
<polyline points="1617,332.1 1618.9,336.3 1620.9,340 1622.8,342.6 1624.8,350 1626.7,358.7 1628.7,360.7 1630.6,361.8 1632.6,359.5 1634.5,350.3 1636.5,340.6 1638.4,327.8 1640.4,324.7 1642.3,323 1644.3,321.5 1646.2,316.3 1648.2,301.7 1650.1,294.5 1652.1,291.9 1654,288.1 1656,285.6 1657.9,284.2 1659.9,280.5 1661.8,276.3 1663.8,276 1665.7,281.4 1667.7,281.7 1669.6,281.2 1671.6,280.3 1673.5,290.3 1675.5,287.6 1677.4,290.7 1679.4,291.8 1681.3,294 1683.3,299.4 1685.2,301.1 1687.2,299.9 1689.1,299.1 1691.1,299.1 1693,299.7 1695,308.3 1696.9,312.5 1698.9,312.1 1700.8,311.6 1702.8,312.9 1704.7,314.1 1706.7,313.1 1708.6,303.3 1710.6,301.7 1712.5,290.8 1714.5,286.3 1716.4,273.6 1718.4,268.6 1720.3,260.9 1722.3,257 1724.2,259.7 1726.2,266.6 1728.1,279 1730.1,289.6 1732,297.8 1733.9,296.7 1735.9,295.4 1737.8,296.2 1739.8,298.5 1741.7,297.7 1743.7,296.8 1745.6,295.7 1747.6,294.4 1749.5,302.7 1751.5,304.5 1753.4,302.2 1755.4,302.9 1757.3,303.7 1759.3,301.6 1761.2,299.1 1763.2,297.1 1765.1,292.3 1767.1,287.7 1769,290.4 1771,290.5 1772.9,289.3 1774.9,280.5 1776.8,279.3 1778.8,283.2 1780.7,285.1 1782.7,282.4 1784.6,283.5 1786.6,285 1788.5,288.9 1790.5,285.6 1792.4,283.5 1794.4,286.7 1796.3,289.4 1798.3,291.7 1800.2,296.7 1802.2,305.1 1804.1,322.1 1806.1,332.8 1808,344 1810,353.4 1811.9,359.2 1813.9,360.9 1815.8,361.7 1817.8,359.5 1819.7,341.4 1821.7,332.8 1823.6,324.4 1825.6,315.1 1827.5,304 1829.5,297.6 1831.4,293.3 1833.4,291.2 1835.3,290.4 1837.3,284.5 1839.2,277.6 1841.2,273.7 1843.1,282.3 1845,281.6 1847,280.9 1848.9,284.5 1850.9,294.9 1852.8,292.9 1854.8,296.1 1856.7,301.5 1858.7,299.1 1860.6,296.7 1862.6,298.5 1864.5,300.6 1866.5,303.5 1868.4,307.7 1870.4,312.9 1872.3,315.2 1874.3,313.6 1876.2,312.4 1878.2,311.9 1880.1,309.7 1882.1,303.5 1884,299.6 1886,296.1 1887.9,292.8 1889.9,285 1891.8,279.4 1893.8,272 1895.7,262.5 1897.7,258.3 1899.6,256.4 1901.6,255.4 1903.5,254.9 1905.5,261.8 1907.4,271.7 1909.4,279 1911.3,282.9 1913.3,285.6 1915.2,289.4 1917.2,298.4 1919.1,297.7 1921.1,297.3 1923,300.5 1925,305.3 1926.9,305.7 1928.9,303.6 1930.8,297.8 1932.8,295.5 1934.7,296.3 1936.7,297.3 1938.6,298.9 1940.6,300.5 1942.5,298.5 1944.5,289.5 1946.4,287.6 1948.4,286.3 1950.3,285.7 1952.3,285.1 1954.2,284.8 1956.2,284.6 1958.1,284.4" fill="none" stroke="#cccc00" stroke-width="2.4" stroke-linejoin="round" />
<path d="M1617,332.1h0M1618.9,336.3h0M1620.9,340h0M1622.8,342.6h0M1624.8,350h0M1626.7,358.7h0M1628.7,360.7h0M1630.6,361.8h0M1632.6,359.5h0M1634.5,350.3h0M1636.5,340.6h0M1638.4,327.8h0M1640.4,324.7h0M1642.3,323h0M1644.3,321.5h0M1646.2,316.3h0M1648.2,301.7h0M1650.1,294.5h0M1652.1,291.9h0M1654,288.1h0M1656,285.6h0M1657.9,284.2h0M1659.9,280.5h0M1661.8,276.3h0M1663.8,276h0M1665.7,281.4h0M1667.7,281.7h0M1669.6,281.2h0M1671.6,280.3h0M1673.5,290.3h0M1675.5,287.6h0M1677.4,290.7h0M1679.4,291.8h0M1681.3,294h0M1683.3,299.4h0M1685.2,301.1h0M1687.2,299.9h0M1689.1,299.1h0M1691.1,299.1h0M1693,299.7h0M1695,308.3h0M1696.9,312.5h0M1698.9,312.1h0M1700.8,311.6h0M1702.8,312.9h0M1704.7,314.1h0M1706.7,313.1h0M1708.6,303.3h0M1710.6,301.7h0M1712.5,290.8h0M1714.5,286.3h0M1716.4,273.6h0M1718.4,268.6h0M1720.3,260.9h0M1722.3,257h0M1724.2,259.7h0M1726.2,266.6h0M1728.1,279h0M1730.1,289.6h0M1732,297.8h0M1733.9,296.7h0M1735.9,295.4h0M1737.8,296.2h0M1739.8,298.5h0M1741.7,297.7h0M1743.7,296.8h0M1745.6,295.7h0M1747.6,294.4h0M1749.5,302.7h0M1751.5,304.5h0M1753.4,302.2h0M1755.4,302.9h0M1757.3,303.7h0M1759.3,301.6h0M1761.2,299.1h0M1763.2,297.1h0M1765.1,292.3h0M1767.1,287.7h0M1769,290.4h0M1771,290.5h0M1772.9,289.3h0M1774.9,280.5h0M1776.8,279.3h0M1778.8,283.2h0M1780.7,285.1h0M1782.7,282.4h0M1784.6,283.5h0M1786.6,285h0M1788.5,288.9h0M1790.5,285.6h0M1792.4,283.5h0M1794.4,286.7h0M1796.3,289.4h0M1798.3,291.7h0M1800.2,296.7h0M1802.2,305.1h0M1804.1,322.1h0M1806.1,332.8h0M1808,344h0M1810,353.4h0M1811.9,359.2h0M1813.9,360.9h0M1815.8,361.7h0M1817.8,359.5h0M1819.7,341.4h0M1821.7,332.8h0M1823.6,324.4h0M1825.6,315.1h0M1827.5,304h0M1829.5,297.6h0M1831.4,293.3h0M1833.4,291.2h0M1835.3,290.4h0M1837.3,284.5h0M1839.2,277.6h0M1841.2,273.7h0M1843.1,282.3h0M1845,281.6h0M1847,280.9h0M1848.9,284.5h0M1850.9,294.9h0M1852.8,292.9h0M1854.8,296.1h0M1856.7,301.5h0M1858.7,299.1h0M1860.6,296.7h0M1862.6,298.5h0M1864.5,300.6h0M1866.5,303.5h0M1868.4,307.7h0M1870.4,312.9h0M1872.3,315.2h0M1874.3,313.6h0M1876.2,312.4h0M1878.2,311.9h0M1880.1,309.7h0M1882.1,303.5h0M1884,299.6h0M1886,296.1h0M1887.9,292.8h0M1889.9,285h0M1891.8,279.4h0M1893.8,272h0M1895.7,262.5h0M1897.7,258.3h0M1899.6,256.4h0M1901.6,255.4h0M1903.5,254.9h0M1905.5,261.8h0M1907.4,271.7h0M1909.4,279h0M1911.3,282.9h0M1913.3,285.6h0M1915.2,289.4h0M1917.2,298.4h0M1919.1,297.7h0M1921.1,297.3h0M1923,300.5h0M1925,305.3h0M1926.9,305.7h0M1928.9,303.6h0M1930.8,297.8h0M1932.8,295.5h0M1934.7,296.3h0M1936.7,297.3h0M1938.6,298.9h0M1940.6,300.5h0M1942.5,298.5h0M1944.5,289.5h0M1946.4,287.6h0M1948.4,286.3h0M1950.3,285.7h0M1952.3,285.1h0M1954.2,284.8h0M1956.2,284.6h0M1958.1,284.4h0" fill="none" stroke="#cccc00" stroke-width="5.8" stroke-linecap="round"/>
<line x1="1617" y1="75.6" x2="1952.1" y2="75.6" stroke="#000" stroke-width="1.6" stroke-dasharray="6.6 4.2"/>
<line x1="1617" y1="130.6" x2="1952.1" y2="130.6" stroke="#000" stroke-width="1.6" stroke-dasharray="6.6 4.2"/>
<line x1="1617" y1="216.4" x2="1952.1" y2="216.4" stroke="#000" stroke-width="1.6" stroke-dasharray="6.6 4.2"/>
<line x1="1617" y1="308.7" x2="1952.1" y2="308.7" stroke="#000" stroke-width="1.6" stroke-dasharray="6.6 4.2"/>
<text x="1964.5" y="77" font-size="27" fill="#000"><tspan font-family="'Liberation Sans', Arial, sans-serif">150 </tspan><tspan font-family="'Liberation Serif', 'Times New Roman', serif" font-size="28">μ</tspan><tspan font-family="'Liberation Sans', Arial, sans-serif">A</tspan></text>
<text x="1964.5" y="141.2" font-size="27" fill="#000"><tspan font-family="'Liberation Sans', Arial, sans-serif">200 </tspan><tspan font-family="'Liberation Serif', 'Times New Roman', serif" font-size="28">μ</tspan><tspan font-family="'Liberation Sans', Arial, sans-serif">A</tspan></text>
<text x="1964.5" y="223.2" font-size="27" fill="#000"><tspan font-family="'Liberation Sans', Arial, sans-serif">250 </tspan><tspan font-family="'Liberation Serif', 'Times New Roman', serif" font-size="28">μ</tspan><tspan font-family="'Liberation Sans', Arial, sans-serif">A</tspan></text>
<text x="1964.5" y="312.6" font-size="27" fill="#000"><tspan font-family="'Liberation Sans', Arial, sans-serif">300 </tspan><tspan font-family="'Liberation Serif', 'Times New Roman', serif" font-size="28">μ</tspan><tspan font-family="'Liberation Sans', Arial, sans-serif">A</tspan></text>
<text x="1994.5" y="34" font-size="33.5" fill="#000" font-family="'Liberation Serif', 'Times New Roman', serif" font-style="italic">I<tspan font-size="26" dy="6" dx="-1">z</tspan></text>
<text x="1658.5" y="362" font-family="'Liberation Sans', Arial, sans-serif" font-size="27" text-anchor="start" fill="#000" stroke="#000" stroke-width="0.3">1.5 K, 7 T</text>
<line x1="1872.3" y1="170.5" x2="1923" y2="170.5" stroke="#000" stroke-width="1.5" />
<line x1="1879.1" y1="171.5" x2="1879.1" y2="215.5" stroke="#000" stroke-width="1.5" />
<polyline points="1873,181.5 1879.1,171.3 1885.2,181.5" fill="none" stroke="#000" stroke-width="1.5" stroke-linejoin="round" />
<polyline points="1873,205.5 1879.1,215.7 1885.2,205.5" fill="none" stroke="#000" stroke-width="1.5" stroke-linejoin="round" />
<text y="201.3" font-size="27" fill="#000" font-family="'Liberation Serif', 'Times New Roman', serif"><tspan x="1809.5">Δ</tspan><tspan x="1826" font-style="italic">ρ</tspan><tspan x="1841" y="206.7" font-style="italic" font-size="18" letter-spacing="1.5">zz</tspan><tspan x="1842.5" y="191.4" font-size="17.5">2</tspan><tspan dx="2" font-size="18" font-style="italic">ω</tspan></text>
<text x="1741" y="434.6" font-size="37" fill="#000" stroke="#000" stroke-width="0.5"><tspan font-family="'Liberation Serif', 'Times New Roman', serif" font-style="italic" font-size="39">φ</tspan><tspan font-family="'Liberation Serif', 'Times New Roman', serif" dx="5" letter-spacing="0.7">(deg.</tspan><tspan font-family="'Liberation Serif', 'Times New Roman', serif" dx="5">)</tspan></text>
<g transform="translate(1549.8,300.1) rotate(-90)"><text font-size="37" fill="#000" stroke="#000" stroke-width="0.4" font-family="'Liberation Serif', 'Times New Roman', serif"><tspan x="2.5" y="0" font-style="italic" font-size="39">ρ</tspan><tspan x="20" y="7.5" font-style="italic" font-size="30" letter-spacing="1.5">zz</tspan><tspan x="22.5" y="-13" font-size="27">2</tspan><tspan dx="2" font-style="italic" font-size="27">ω</tspan><tspan x="62.3" y="0">(nΩ cm)</tspan></text></g>
</g>
<g id="panel-e">
<text x="1495.2" y="490.8" font-family="'Liberation Sans', Arial, sans-serif" font-size="40.5" text-anchor="start" fill="#000" font-weight="bold">e</text>
<rect x="1616.0" y="462.0" width="342.6" height="342.5" fill="none" stroke="#000" stroke-width="2"/>
<line x1="1616" y1="462" x2="1616" y2="468.5" stroke="#000" stroke-width="1.7" />
<line x1="1616" y1="804.5" x2="1616" y2="798" stroke="#000" stroke-width="1.7" />
<text x="1616" y="833.5" font-family="'Liberation Serif', 'Times New Roman', serif" font-size="28" text-anchor="middle" fill="#000" >0</text>
<line x1="1664.9" y1="462" x2="1664.9" y2="466" stroke="#000" stroke-width="1.7" />
<line x1="1664.9" y1="804.5" x2="1664.9" y2="800.5" stroke="#000" stroke-width="1.7" />
<line x1="1713.9" y1="462" x2="1713.9" y2="468.5" stroke="#000" stroke-width="1.7" />
<line x1="1713.9" y1="804.5" x2="1713.9" y2="798" stroke="#000" stroke-width="1.7" />
<text x="1713.9" y="833.5" font-family="'Liberation Serif', 'Times New Roman', serif" font-size="28" text-anchor="middle" fill="#000" >100</text>
<line x1="1762.8" y1="462" x2="1762.8" y2="466" stroke="#000" stroke-width="1.7" />
<line x1="1762.8" y1="804.5" x2="1762.8" y2="800.5" stroke="#000" stroke-width="1.7" />
<line x1="1811.8" y1="462" x2="1811.8" y2="468.5" stroke="#000" stroke-width="1.7" />
<line x1="1811.8" y1="804.5" x2="1811.8" y2="798" stroke="#000" stroke-width="1.7" />
<text x="1811.8" y="833.5" font-family="'Liberation Serif', 'Times New Roman', serif" font-size="28" text-anchor="middle" fill="#000" >200</text>
<line x1="1860.7" y1="462" x2="1860.7" y2="466" stroke="#000" stroke-width="1.7" />
<line x1="1860.7" y1="804.5" x2="1860.7" y2="800.5" stroke="#000" stroke-width="1.7" />
<line x1="1909.7" y1="462" x2="1909.7" y2="468.5" stroke="#000" stroke-width="1.7" />
<line x1="1909.7" y1="804.5" x2="1909.7" y2="798" stroke="#000" stroke-width="1.7" />
<text x="1909.7" y="833.5" font-family="'Liberation Serif', 'Times New Roman', serif" font-size="28" text-anchor="middle" fill="#000" >300</text>
<line x1="1958.6" y1="462" x2="1958.6" y2="466" stroke="#000" stroke-width="1.7" />
<line x1="1958.6" y1="804.5" x2="1958.6" y2="800.5" stroke="#000" stroke-width="1.7" />
<line x1="1616" y1="804.5" x2="1622.5" y2="804.5" stroke="#000" stroke-width="1.7" />
<line x1="1958.6" y1="804.5" x2="1952.1" y2="804.5" stroke="#000" stroke-width="1.7" />
<text x="1612.6" y="813.8" font-family="'Liberation Serif', 'Times New Roman', serif" font-size="28" text-anchor="end" fill="#000" >0</text>
<line x1="1616" y1="778.6" x2="1620" y2="778.6" stroke="#000" stroke-width="1.7" />
<line x1="1958.6" y1="778.6" x2="1954.6" y2="778.6" stroke="#000" stroke-width="1.7" />
<line x1="1616" y1="752.8" x2="1622.5" y2="752.8" stroke="#000" stroke-width="1.7" />
<line x1="1958.6" y1="752.8" x2="1952.1" y2="752.8" stroke="#000" stroke-width="1.7" />
<text x="1612.6" y="762.1" font-family="'Liberation Serif', 'Times New Roman', serif" font-size="28" text-anchor="end" fill="#000" >2</text>
<line x1="1616" y1="726.9" x2="1620" y2="726.9" stroke="#000" stroke-width="1.7" />
<line x1="1958.6" y1="726.9" x2="1954.6" y2="726.9" stroke="#000" stroke-width="1.7" />
<line x1="1616" y1="701" x2="1622.5" y2="701" stroke="#000" stroke-width="1.7" />
<line x1="1958.6" y1="701" x2="1952.1" y2="701" stroke="#000" stroke-width="1.7" />
<text x="1612.6" y="710.3" font-family="'Liberation Serif', 'Times New Roman', serif" font-size="28" text-anchor="end" fill="#000" >4</text>
<line x1="1616" y1="675.1" x2="1620" y2="675.1" stroke="#000" stroke-width="1.7" />
<line x1="1958.6" y1="675.1" x2="1954.6" y2="675.1" stroke="#000" stroke-width="1.7" />
<line x1="1616" y1="649.3" x2="1622.5" y2="649.3" stroke="#000" stroke-width="1.7" />
<line x1="1958.6" y1="649.3" x2="1952.1" y2="649.3" stroke="#000" stroke-width="1.7" />
<text x="1612.6" y="658.6" font-family="'Liberation Serif', 'Times New Roman', serif" font-size="28" text-anchor="end" fill="#000" >6</text>
<line x1="1616" y1="623.4" x2="1620" y2="623.4" stroke="#000" stroke-width="1.7" />
<line x1="1958.6" y1="623.4" x2="1954.6" y2="623.4" stroke="#000" stroke-width="1.7" />
<line x1="1616" y1="597.5" x2="1622.5" y2="597.5" stroke="#000" stroke-width="1.7" />
<line x1="1958.6" y1="597.5" x2="1952.1" y2="597.5" stroke="#000" stroke-width="1.7" />
<text x="1612.6" y="606.8" font-family="'Liberation Serif', 'Times New Roman', serif" font-size="28" text-anchor="end" fill="#000" >8</text>
<line x1="1616" y1="571.7" x2="1620" y2="571.7" stroke="#000" stroke-width="1.7" />
<line x1="1958.6" y1="571.7" x2="1954.6" y2="571.7" stroke="#000" stroke-width="1.7" />
<line x1="1616" y1="545.8" x2="1622.5" y2="545.8" stroke="#000" stroke-width="1.7" />
<line x1="1958.6" y1="545.8" x2="1952.1" y2="545.8" stroke="#000" stroke-width="1.7" />
<text x="1612.6" y="555.1" font-family="'Liberation Serif', 'Times New Roman', serif" font-size="28" text-anchor="end" fill="#000" >10</text>
<line x1="1616" y1="519.9" x2="1620" y2="519.9" stroke="#000" stroke-width="1.7" />
<line x1="1958.6" y1="519.9" x2="1954.6" y2="519.9" stroke="#000" stroke-width="1.7" />
<line x1="1616" y1="494.1" x2="1622.5" y2="494.1" stroke="#000" stroke-width="1.7" />
<line x1="1958.6" y1="494.1" x2="1952.1" y2="494.1" stroke="#000" stroke-width="1.7" />
<text x="1612.6" y="503.4" font-family="'Liberation Serif', 'Times New Roman', serif" font-size="28" text-anchor="end" fill="#000" >12</text>
<line x1="1616" y1="468.2" x2="1620" y2="468.2" stroke="#000" stroke-width="1.7" />
<line x1="1958.6" y1="468.2" x2="1954.6" y2="468.2" stroke="#000" stroke-width="1.7" />
<line x1="1616" y1="804.5" x2="1958.6" y2="462" stroke="#000" stroke-width="3.1" stroke-dasharray="6.6 4.6" stroke-dashoffset="3"/>
<polyline points="1762.6,608.6 1811.5,584.6 1860.3,579.2 1909.5,536.3" fill="none" stroke="#ff0000" stroke-width="1.9" stroke-linejoin="round" />
<path d="M1762.6,608.6h0M1811.5,584.6h0M1860.3,579.2h0M1909.5,536.3h0" fill="none" stroke="#ff0000" stroke-width="16.6" stroke-linecap="round"/>
<text y="718" fill="#000"><tspan x="1730.5" y="721.5" font-family="'DejaVu Sans', sans-serif" font-size="47" stroke="#000" stroke-width="0.5">∝</tspan><tspan x="1770" y="718" font-family="'Liberation Serif', 'Times New Roman', serif" font-style="italic" font-size="39" stroke="#000" stroke-width="0.4">I</tspan><tspan x="1782.5" y="725" font-family="'Liberation Serif', 'Times New Roman', serif" font-size="30" stroke="#000" stroke-width="0.4">z</tspan></text>
<text y="879.5" fill="#000" font-family="'Liberation Serif', 'Times New Roman', serif" stroke="#000" stroke-width="0.4"><tspan x="1751" font-style="italic" font-size="39">I</tspan><tspan x="1763" y="886.5" font-style="italic" font-size="30">z</tspan><tspan x="1788.3" y="879.5" font-size="37">(μA)</tspan></text>
<g transform="translate(1549.8,716.3) rotate(-90)"><text font-size="37" fill="#000" stroke="#000" stroke-width="0.4" font-family="'Liberation Serif', 'Times New Roman', serif"><tspan x="-21" y="0" font-size="38">Δ</tspan><tspan x="2.5" y="0" font-style="italic" font-size="39">ρ</tspan><tspan x="20" y="7.5" font-style="italic" font-size="30" letter-spacing="1.5">zz</tspan><tspan x="22.5" y="-13" font-size="27">2</tspan><tspan dx="2" font-style="italic" font-size="27">ω</tspan><tspan x="62.3" y="0">(nΩ cm)</tspan></text></g>
</g>
</svg>
</body></html>
